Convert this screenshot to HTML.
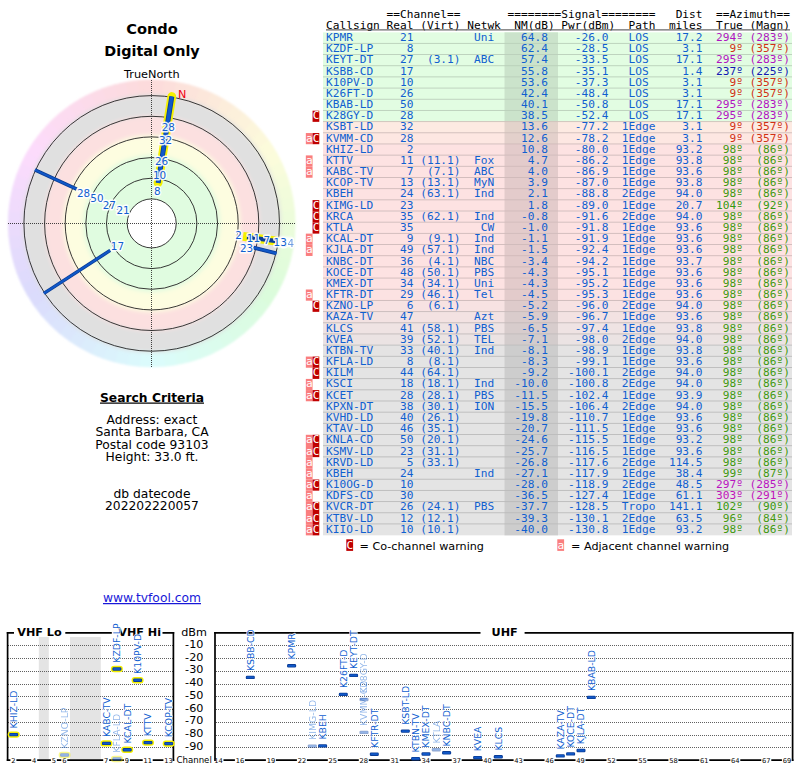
<!DOCTYPE html><html><head><meta charset="utf-8"><title>TV Fool Radar</title>
<style>html,body{margin:0;padding:0;background:#fff}svg{display:block}.m{font-family:"DejaVu Sans Mono","Liberation Mono",monospace;font-size:11.17px}.s{font-family:"DejaVu Sans","Liberation Sans",sans-serif}.b{font-family:"DejaVu Sans","Liberation Sans",sans-serif;font-weight:bold}</style></head><body>
<svg width="800" height="768" viewBox="0 0 800 768">
<defs><filter id="bl" x="-20%" y="-20%" width="140%" height="140%"><feGaussianBlur stdDeviation="0.8"/></filter><filter id="bl2" x="-20%" y="-20%" width="140%" height="140%"><feGaussianBlur stdDeviation="2"/></filter><filter id="bl3" x="-20%" y="-20%" width="140%" height="140%"><feGaussianBlur stdDeviation="1"/></filter></defs>
<rect width="800" height="768" fill="#fff"/>
<g filter="url(#bl)">
<path d="M150.9 79.6A143.8 143.8 0 0 1 165.0 80.2L162.8 103.9A120.0 120.0 0 0 0 151.1 103.4Z" fill="#fcdcdb"/>
<path d="M163.5 80.1A143.8 143.8 0 0 1 177.4 81.9L173.2 105.3A120.0 120.0 0 0 0 161.5 103.8Z" fill="#fcdfdb"/>
<path d="M175.9 81.7A143.8 143.8 0 0 1 189.6 84.7L183.4 107.7A120.0 120.0 0 0 0 171.9 105.1Z" fill="#fce2db"/>
<path d="M188.2 84.3A143.8 143.8 0 0 1 201.6 88.5L193.3 110.9A120.0 120.0 0 0 0 182.2 107.3Z" fill="#fce4db"/>
<path d="M200.2 88.0A143.8 143.8 0 0 1 213.2 93.4L203.0 114.9A120.0 120.0 0 0 0 192.2 110.4Z" fill="#fce7db"/>
<path d="M211.8 92.8A143.8 143.8 0 0 1 224.3 99.2L212.2 119.8A120.0 120.0 0 0 0 201.8 114.4Z" fill="#fceadb"/>
<path d="M222.9 98.5A143.8 143.8 0 0 1 234.8 106.0L221.0 125.5A120.0 120.0 0 0 0 211.2 119.2Z" fill="#fceddb"/>
<path d="M233.6 105.2A143.8 143.8 0 0 1 244.7 113.7L229.3 131.9A120.0 120.0 0 0 0 220.0 124.7Z" fill="#fcf0db"/>
<path d="M243.6 112.8A143.8 143.8 0 0 1 253.9 122.3L237.0 139.0A120.0 120.0 0 0 0 228.4 131.1Z" fill="#fcf2db"/>
<path d="M252.8 121.2A143.8 143.8 0 0 1 262.3 131.5L244.0 146.7A120.0 120.0 0 0 0 236.1 138.1Z" fill="#fcf5db"/>
<path d="M261.4 130.4A143.8 143.8 0 0 1 269.9 141.5L250.4 155.1A120.0 120.0 0 0 0 243.2 145.8Z" fill="#fcf8db"/>
<path d="M269.1 140.3A143.8 143.8 0 0 1 276.6 152.2L255.9 163.9A120.0 120.0 0 0 0 249.6 154.1Z" fill="#fcfbdb"/>
<path d="M275.9 150.8A143.8 143.8 0 0 1 282.3 163.3L260.7 173.3A120.0 120.0 0 0 0 255.3 162.9Z" fill="#fbfcdb"/>
<path d="M281.7 161.9A143.8 143.8 0 0 1 287.1 174.9L264.7 182.9A120.0 120.0 0 0 0 260.2 172.1Z" fill="#f8fcdb"/>
<path d="M286.6 173.5A143.8 143.8 0 0 1 290.8 186.9L267.8 192.9A120.0 120.0 0 0 0 264.2 181.8Z" fill="#f5fcdb"/>
<path d="M290.4 185.5A143.8 143.8 0 0 1 293.4 199.2L270.0 203.2A120.0 120.0 0 0 0 267.4 191.7Z" fill="#f2fcdb"/>
<path d="M293.2 197.7A143.8 143.8 0 0 1 295.0 211.6L271.3 213.6A120.0 120.0 0 0 0 269.8 201.9Z" fill="#f0fcdb"/>
<path d="M294.9 210.1A143.8 143.8 0 0 1 295.5 224.2L271.7 224.0A120.0 120.0 0 0 0 271.2 212.3Z" fill="#edfcdb"/>
<path d="M295.5 222.6A143.8 143.8 0 0 1 294.9 236.7L271.2 234.5A120.0 120.0 0 0 0 271.7 222.8Z" fill="#eafcdb"/>
<path d="M295.0 235.2A143.8 143.8 0 0 1 293.2 249.1L269.8 244.9A120.0 120.0 0 0 0 271.3 233.2Z" fill="#e7fcdb"/>
<path d="M293.4 247.6A143.8 143.8 0 0 1 290.4 261.3L267.4 255.1A120.0 120.0 0 0 0 270.0 243.6Z" fill="#e4fcdb"/>
<path d="M290.8 259.9A143.8 143.8 0 0 1 286.6 273.3L264.2 265.0A120.0 120.0 0 0 0 267.8 253.9Z" fill="#e2fcdb"/>
<path d="M287.1 271.9A143.8 143.8 0 0 1 281.7 284.9L260.2 274.7A120.0 120.0 0 0 0 264.7 263.9Z" fill="#dffcdb"/>
<path d="M282.3 283.5A143.8 143.8 0 0 1 275.9 296.0L255.3 283.9A120.0 120.0 0 0 0 260.7 273.5Z" fill="#dcfcdb"/>
<path d="M276.6 294.6A143.8 143.8 0 0 1 269.1 306.5L249.6 292.7A120.0 120.0 0 0 0 255.9 282.9Z" fill="#dbfcdc"/>
<path d="M269.9 305.3A143.8 143.8 0 0 1 261.4 316.4L243.2 301.0A120.0 120.0 0 0 0 250.4 291.7Z" fill="#dbfcdf"/>
<path d="M262.3 315.3A143.8 143.8 0 0 1 252.8 325.6L236.1 308.7A120.0 120.0 0 0 0 244.0 300.1Z" fill="#dbfce2"/>
<path d="M253.9 324.5A143.8 143.8 0 0 1 243.6 334.0L228.4 315.7A120.0 120.0 0 0 0 237.0 307.8Z" fill="#dbfce4"/>
<path d="M244.7 333.1A143.8 143.8 0 0 1 233.6 341.6L220.0 322.1A120.0 120.0 0 0 0 229.3 314.9Z" fill="#dbfce7"/>
<path d="M234.8 340.8A143.8 143.8 0 0 1 222.9 348.3L211.2 327.6A120.0 120.0 0 0 0 221.0 321.3Z" fill="#dbfcea"/>
<path d="M224.3 347.6A143.8 143.8 0 0 1 211.8 354.0L201.8 332.4A120.0 120.0 0 0 0 212.2 327.0Z" fill="#dbfced"/>
<path d="M213.2 353.4A143.8 143.8 0 0 1 200.2 358.8L192.2 336.4A120.0 120.0 0 0 0 203.0 331.9Z" fill="#dbfcf0"/>
<path d="M201.6 358.3A143.8 143.8 0 0 1 188.2 362.5L182.2 339.5A120.0 120.0 0 0 0 193.3 335.9Z" fill="#dbfcf2"/>
<path d="M189.6 362.1A143.8 143.8 0 0 1 175.9 365.1L171.9 341.7A120.0 120.0 0 0 0 183.4 339.1Z" fill="#dbfcf5"/>
<path d="M177.4 364.9A143.8 143.8 0 0 1 163.5 366.7L161.5 343.0A120.0 120.0 0 0 0 173.2 341.5Z" fill="#dbfcf8"/>
<path d="M165.0 366.6A143.8 143.8 0 0 1 150.9 367.2L151.1 343.4A120.0 120.0 0 0 0 162.8 342.9Z" fill="#dbfcfb"/>
<path d="M152.5 367.2A143.8 143.8 0 0 1 138.4 366.6L140.6 342.9A120.0 120.0 0 0 0 152.3 343.4Z" fill="#dbfbfc"/>
<path d="M139.9 366.7A143.8 143.8 0 0 1 126.0 364.9L130.2 341.5A120.0 120.0 0 0 0 141.9 343.0Z" fill="#dbf8fc"/>
<path d="M127.5 365.1A143.8 143.8 0 0 1 113.8 362.1L120.0 339.1A120.0 120.0 0 0 0 131.5 341.7Z" fill="#dbf5fc"/>
<path d="M115.2 362.5A143.8 143.8 0 0 1 101.8 358.3L110.1 335.9A120.0 120.0 0 0 0 121.2 339.5Z" fill="#dbf2fc"/>
<path d="M103.2 358.8A143.8 143.8 0 0 1 90.2 353.4L100.4 331.9A120.0 120.0 0 0 0 111.2 336.4Z" fill="#dbf0fc"/>
<path d="M91.6 354.0A143.8 143.8 0 0 1 79.1 347.6L91.2 327.0A120.0 120.0 0 0 0 101.6 332.4Z" fill="#dbedfc"/>
<path d="M80.5 348.3A143.8 143.8 0 0 1 68.6 340.8L82.4 321.3A120.0 120.0 0 0 0 92.2 327.6Z" fill="#dbeafc"/>
<path d="M69.8 341.6A143.8 143.8 0 0 1 58.7 333.1L74.1 314.9A120.0 120.0 0 0 0 83.4 322.1Z" fill="#dbe7fc"/>
<path d="M59.8 334.0A143.8 143.8 0 0 1 49.5 324.5L66.4 307.8A120.0 120.0 0 0 0 75.0 315.7Z" fill="#dbe4fc"/>
<path d="M50.6 325.6A143.8 143.8 0 0 1 41.1 315.3L59.4 300.1A120.0 120.0 0 0 0 67.3 308.7Z" fill="#dbe2fc"/>
<path d="M42.0 316.4A143.8 143.8 0 0 1 33.5 305.3L53.0 291.7A120.0 120.0 0 0 0 60.2 301.0Z" fill="#dbdffc"/>
<path d="M34.3 306.5A143.8 143.8 0 0 1 26.8 294.6L47.5 282.9A120.0 120.0 0 0 0 53.8 292.7Z" fill="#dbdcfc"/>
<path d="M27.5 296.0A143.8 143.8 0 0 1 21.1 283.5L42.7 273.5A120.0 120.0 0 0 0 48.1 283.9Z" fill="#dcdbfc"/>
<path d="M21.7 284.9A143.8 143.8 0 0 1 16.3 271.9L38.7 263.9A120.0 120.0 0 0 0 43.2 274.7Z" fill="#dfdbfc"/>
<path d="M16.8 273.3A143.8 143.8 0 0 1 12.6 259.9L35.6 253.9A120.0 120.0 0 0 0 39.2 265.0Z" fill="#e2dbfc"/>
<path d="M13.0 261.3A143.8 143.8 0 0 1 10.0 247.6L33.4 243.6A120.0 120.0 0 0 0 36.0 255.1Z" fill="#e4dbfc"/>
<path d="M10.2 249.1A143.8 143.8 0 0 1 8.4 235.2L32.1 233.2A120.0 120.0 0 0 0 33.6 244.9Z" fill="#e7dbfc"/>
<path d="M8.5 236.7A143.8 143.8 0 0 1 7.9 222.6L31.7 222.8A120.0 120.0 0 0 0 32.2 234.5Z" fill="#eadbfc"/>
<path d="M7.9 224.2A143.8 143.8 0 0 1 8.5 210.1L32.2 212.3A120.0 120.0 0 0 0 31.7 224.0Z" fill="#eddbfc"/>
<path d="M8.4 211.6A143.8 143.8 0 0 1 10.2 197.7L33.6 201.9A120.0 120.0 0 0 0 32.1 213.6Z" fill="#f0dbfc"/>
<path d="M10.0 199.2A143.8 143.8 0 0 1 13.0 185.5L36.0 191.7A120.0 120.0 0 0 0 33.4 203.2Z" fill="#f2dbfc"/>
<path d="M12.6 186.9A143.8 143.8 0 0 1 16.8 173.5L39.2 181.8A120.0 120.0 0 0 0 35.6 192.9Z" fill="#f5dbfc"/>
<path d="M16.3 174.9A143.8 143.8 0 0 1 21.7 161.9L43.2 172.1A120.0 120.0 0 0 0 38.7 182.9Z" fill="#f8dbfc"/>
<path d="M21.1 163.3A143.8 143.8 0 0 1 27.5 150.8L48.1 162.9A120.0 120.0 0 0 0 42.7 173.3Z" fill="#fbdbfc"/>
<path d="M26.8 152.2A143.8 143.8 0 0 1 34.3 140.3L53.8 154.1A120.0 120.0 0 0 0 47.5 163.9Z" fill="#fcdbfb"/>
<path d="M33.5 141.5A143.8 143.8 0 0 1 42.0 130.4L60.2 145.8A120.0 120.0 0 0 0 53.0 155.1Z" fill="#fcdbf8"/>
<path d="M41.1 131.5A143.8 143.8 0 0 1 50.6 121.2L67.3 138.1A120.0 120.0 0 0 0 59.4 146.7Z" fill="#fcdbf5"/>
<path d="M49.5 122.3A143.8 143.8 0 0 1 59.8 112.8L75.0 131.1A120.0 120.0 0 0 0 66.4 139.0Z" fill="#fcdbf2"/>
<path d="M58.7 113.7A143.8 143.8 0 0 1 69.8 105.2L83.4 124.7A120.0 120.0 0 0 0 74.1 131.9Z" fill="#fcdbf0"/>
<path d="M68.6 106.0A143.8 143.8 0 0 1 80.5 98.5L92.2 119.2A120.0 120.0 0 0 0 82.4 125.5Z" fill="#fcdbed"/>
<path d="M79.1 99.2A143.8 143.8 0 0 1 91.6 92.8L101.6 114.4A120.0 120.0 0 0 0 91.2 119.8Z" fill="#fcdbea"/>
<path d="M90.2 93.4A143.8 143.8 0 0 1 103.2 88.0L111.2 110.4A120.0 120.0 0 0 0 100.4 114.9Z" fill="#fcdbe7"/>
<path d="M101.8 88.5A143.8 143.8 0 0 1 115.2 84.3L121.2 107.3A120.0 120.0 0 0 0 110.1 110.9Z" fill="#fcdbe4"/>
<path d="M113.8 84.7A143.8 143.8 0 0 1 127.5 81.7L131.5 105.1A120.0 120.0 0 0 0 120.0 107.7Z" fill="#fcdbe2"/>
<path d="M126.0 81.9A143.8 143.8 0 0 1 139.9 80.1L141.9 103.8A120.0 120.0 0 0 0 130.2 105.3Z" fill="#fcdbdf"/>
<path d="M138.4 80.2A143.8 143.8 0 0 1 152.5 79.6L152.3 103.4A120.0 120.0 0 0 0 140.6 103.9Z" fill="#fcdbdc"/>
</g>
<g filter="url(#bl2)">
<circle cx="151.7" cy="223.4" r="129" fill="#e0e0e0"/>
<circle cx="151.7" cy="223.4" r="107.5" fill="#fce0e0"/>
<circle cx="151.7" cy="223.4" r="88.5" fill="#fdfde0"/>
<circle cx="151.7" cy="223.4" r="68.5" fill="#e0fce0"/>
</g>
<circle cx="151.7" cy="223.4" r="24.5" fill="#fff"/>
<path d="M8 223.5 H296 M151.5 80 V367" stroke="#222" stroke-opacity="0.85" stroke-width="1" stroke-dasharray="1 1" fill="none" shape-rendering="crispEdges"/>
<circle cx="151.7" cy="223.4" r="24.5" fill="none" stroke="#222" stroke-width="0.9"/>
<circle cx="151.7" cy="223.4" r="45.2" fill="none" stroke="#222" stroke-width="0.9"/>
<circle cx="151.7" cy="223.4" r="65.9" fill="none" stroke="#222" stroke-width="0.9"/>
<circle cx="151.7" cy="223.4" r="86.5" fill="none" stroke="#222" stroke-width="0.9"/>
<circle cx="151.7" cy="223.4" r="107.1" fill="none" stroke="#222" stroke-width="0.9"/>
<circle cx="151.7" cy="223.4" r="127.8" fill="none" stroke="#222" stroke-width="0.9"/>
<line x1="171.8" y1="96.5" x2="158.1" y2="182.9" stroke="#f4f000" stroke-width="8.8" stroke-linecap="round"/><line x1="171.8" y1="96.5" x2="158.1" y2="182.9" stroke="#0a3c96" stroke-width="5.0"/><line x1="171.8" y1="96.5" x2="158.1" y2="182.9" stroke="#1058c8" stroke-width="3.4"/>
<line x1="34.9" y1="169.9" x2="76.7" y2="189.1" stroke="#0a3c96" stroke-width="3.5"/><line x1="34.9" y1="169.9" x2="76.7" y2="189.1" stroke="#1058c8" stroke-width="1.9"/>
<line x1="43.9" y1="293.4" x2="110.2" y2="250.4" stroke="#0a3c96" stroke-width="3.5"/><line x1="43.9" y1="293.4" x2="110.2" y2="250.4" stroke="#1058c8" stroke-width="1.9"/>
<line x1="243" y1="236.4" x2="277.5" y2="241.3" stroke="#f4f000" stroke-width="9" stroke-linecap="butt"/>
<line x1="247" y1="237.0" x2="276.5" y2="241.15" stroke="#0a3c96" stroke-width="4.4"/>
<rect x="277" y="236.5" width="16" height="10.5" rx="3" fill="#fff" opacity="0.85" filter="url(#bl3)"/>
<line x1="253.5" y1="247.6" x2="276.5" y2="253.4" stroke="#0a3c96" stroke-width="3.8"/>
<line x1="253.5" y1="247.6" x2="276.5" y2="253.4" stroke="#1058c8" stroke-width="2.2"/>
<text class="s" x="168.3" y="130.5" font-size="10.4" text-anchor="middle" fill="none" stroke="#fff" stroke-width="3" stroke-linejoin="round" opacity="0.9">28</text>
<text class="s" x="168.3" y="130.5" font-size="10.4" text-anchor="middle" fill="#1060d0" opacity="1">28</text>
<text class="s" x="165.6" y="144.3" font-size="10.4" text-anchor="middle" fill="none" stroke="#fff" stroke-width="3" stroke-linejoin="round" opacity="0.9">32</text>
<text class="s" x="165.6" y="144.3" font-size="10.4" text-anchor="middle" fill="#1060d0" opacity="1">32</text>
<text class="s" x="161.6" y="165.2" font-size="10.4" text-anchor="middle" fill="none" stroke="#fff" stroke-width="3" stroke-linejoin="round" opacity="0.9">26</text>
<text class="s" x="161.6" y="165.2" font-size="10.4" text-anchor="middle" fill="#1060d0" opacity="1">26</text>
<text class="s" x="159.6" y="179.3" font-size="10.4" text-anchor="middle" fill="none" stroke="#fff" stroke-width="3" stroke-linejoin="round" opacity="0.9">10</text>
<text class="s" x="159.6" y="179.3" font-size="10.4" text-anchor="middle" fill="#1060d0" opacity="1">10</text>
<text class="s" x="157.2" y="194.5" font-size="10.4" text-anchor="middle" fill="none" stroke="#fff" stroke-width="3" stroke-linejoin="round" opacity="0.9">8</text>
<text class="s" x="157.2" y="194.5" font-size="10.4" text-anchor="middle" fill="#1060d0" opacity="1">8</text>
<text class="s" x="83.6" y="196.8" font-size="10.4" text-anchor="middle" fill="none" stroke="#fff" stroke-width="3" stroke-linejoin="round" opacity="0.9">28</text>
<text class="s" x="83.6" y="196.8" font-size="10.4" text-anchor="middle" fill="#1060d0" opacity="1">28</text>
<text class="s" x="96.9" y="202.3" font-size="10.4" text-anchor="middle" fill="none" stroke="#fff" stroke-width="3" stroke-linejoin="round" opacity="0.9">50</text>
<text class="s" x="96.9" y="202.3" font-size="10.4" text-anchor="middle" fill="#1060d0" opacity="1">50</text>
<text class="s" x="111.0" y="208.6" font-size="10.4" text-anchor="middle" fill="none" stroke="#fff" stroke-width="3" stroke-linejoin="round" opacity="0.9">27,</text>
<text class="s" x="111.0" y="208.6" font-size="10.4" text-anchor="middle" fill="#1060d0" opacity="1">27,</text>
<text class="s" x="123.0" y="214.4" font-size="10.4" text-anchor="middle" fill="none" stroke="#fff" stroke-width="3" stroke-linejoin="round" opacity="0.9">21</text>
<text class="s" x="123.0" y="214.4" font-size="10.4" text-anchor="middle" fill="#1060d0" opacity="1">21</text>
<text class="s" x="117.4" y="250.3" font-size="10.4" text-anchor="middle" fill="none" stroke="#fff" stroke-width="3" stroke-linejoin="round" opacity="0.9">17</text>
<text class="s" x="117.4" y="250.3" font-size="10.4" text-anchor="middle" fill="#1060d0" opacity="1">17</text>
<text class="s" x="287.6" y="247.4" font-size="10.4" text-anchor="middle" fill="none" stroke="#fff" stroke-width="3" stroke-linejoin="round" opacity="0.9">34</text>
<text class="s" x="287.6" y="247.4" font-size="10.4" text-anchor="middle" fill="#1060d0" opacity="0.6">34</text>
<text class="s" x="280.2" y="245.8" font-size="10.4" text-anchor="middle" fill="none" stroke="#fff" stroke-width="3" stroke-linejoin="round" opacity="0.9">13</text>
<text class="s" x="280.2" y="245.8" font-size="10.4" text-anchor="middle" fill="#1060d0" opacity="1">13</text>
<text class="s" x="266.8" y="243.6" font-size="10.4" text-anchor="middle" fill="none" stroke="#fff" stroke-width="3" stroke-linejoin="round" opacity="0.9">7</text>
<text class="s" x="266.8" y="243.6" font-size="10.4" text-anchor="middle" fill="#1060d0" opacity="1">7</text>
<text class="s" x="253.4" y="241.6" font-size="10.4" text-anchor="middle" fill="none" stroke="#fff" stroke-width="3" stroke-linejoin="round" opacity="0.9">11</text>
<text class="s" x="253.4" y="241.6" font-size="10.4" text-anchor="middle" fill="#1060d0" opacity="1">11</text>
<text class="s" x="238.5" y="239.4" font-size="10.4" text-anchor="middle" fill="none" stroke="#fff" stroke-width="3" stroke-linejoin="round" opacity="0.9">2</text>
<text class="s" x="238.5" y="239.4" font-size="10.4" text-anchor="middle" fill="#1060d0" opacity="1">2</text>
<text class="s" x="246.6" y="251.6" font-size="10.4" text-anchor="middle" fill="none" stroke="#fff" stroke-width="3" stroke-linejoin="round" opacity="0.9">23</text>
<text class="s" x="246.6" y="251.6" font-size="10.4" text-anchor="middle" fill="#1060d0" opacity="1">23</text>
<text class="s" x="182.3" y="97.6" font-size="11.2" text-anchor="middle" fill="#f00010" opacity="1">N</text>
<text class="b" x="152" y="33.6" font-size="14.6" text-anchor="middle" fill="#000">Condo</text>
<text class="b" x="152" y="55.5" font-size="14.4" text-anchor="middle" fill="#000">Digital Only</text>
<text class="s" x="151.8" y="78.2" font-size="11.3" text-anchor="middle" fill="#000">TrueNorth</text>
<text class="b" x="152" y="401.5" font-size="12.3" text-anchor="middle" fill="#000" text-decoration="underline">Search Criteria</text>
<text class="s" x="152" y="423.6" font-size="12.3" text-anchor="middle" fill="#000">Address: exact</text>
<text class="s" x="152" y="436.1" font-size="12.3" text-anchor="middle" fill="#000">Santa Barbara, CA</text>
<text class="s" x="152" y="448.6" font-size="12.3" text-anchor="middle" fill="#000">Postal code 93103</text>
<text class="s" x="152" y="461.1" font-size="12.3" text-anchor="middle" fill="#000">Height: 33.0 ft.</text>
<text class="s" x="152" y="497.6" font-size="12.3" text-anchor="middle" fill="#000">db datecode</text>
<text class="s" x="152" y="510" font-size="12.3" text-anchor="middle" fill="#000">202202220057</text>
<text class="s" x="152" y="602" font-size="12.3" text-anchor="middle" fill="#1818d8" text-decoration="underline">www.tvfool.com</text>
<text class="m" x="386.60" y="18.20" fill="#000" text-anchor="start" xml:space="preserve">==Channel==</text>
<text class="m" x="507.59" y="18.20" fill="#000" text-anchor="start" xml:space="preserve">========Signal========</text>
<text class="m" x="675.64" y="18.20" fill="#000" text-anchor="start" xml:space="preserve">Dist</text>
<text class="m" x="715.98" y="18.20" fill="#000" text-anchor="start" xml:space="preserve">==Azimuth==</text>
<text class="m" x="326.10" y="28.50" fill="#000" text-anchor="start" xml:space="preserve">Callsign</text>
<text class="m" x="386.60" y="28.50" fill="#000" text-anchor="start" xml:space="preserve">Real</text>
<text class="m" x="420.21" y="28.50" fill="#000" text-anchor="start" xml:space="preserve">(Virt)</text>
<text class="m" x="467.26" y="28.50" fill="#000" text-anchor="start" xml:space="preserve">Netwk</text>
<text class="m" x="514.32" y="28.50" fill="#000" text-anchor="start" xml:space="preserve">NM(dB)</text>
<text class="m" x="561.37" y="28.50" fill="#000" text-anchor="start" xml:space="preserve">Pwr(dBm)</text>
<text class="m" x="628.59" y="28.50" fill="#000" text-anchor="start" xml:space="preserve">Path</text>
<text class="m" x="668.92" y="28.50" fill="#000" text-anchor="start" xml:space="preserve">miles</text>
<text class="m" x="715.98" y="28.50" fill="#000" text-anchor="start" xml:space="preserve">True</text>
<text class="m" x="749.59" y="28.50" fill="#000" text-anchor="start" xml:space="preserve">(Magn)</text>
<rect x="326" y="29.4" width="464" height="1" fill="#444"/>
<rect x="323" y="32.35" width="469" height="11.23" fill="#e2fde2"/>
<rect x="504.5" y="32.35" width="53.5" height="11.23" fill="#cbe3cb"/>
<rect x="323" y="43.53" width="469" height="11.23" fill="#e2fde2"/>
<rect x="504.5" y="43.53" width="53.5" height="11.23" fill="#cbe3cb"/>
<rect x="323" y="42.93" width="469" height="0.9" fill="#b9cfb9"/>
<rect x="323" y="54.70" width="469" height="11.23" fill="#e2fde2"/>
<rect x="504.5" y="54.70" width="53.5" height="11.23" fill="#cbe3cb"/>
<rect x="323" y="54.10" width="469" height="0.9" fill="#b9cfb9"/>
<rect x="323" y="65.88" width="469" height="11.23" fill="#e2fde2"/>
<rect x="504.5" y="65.88" width="53.5" height="11.23" fill="#cbe3cb"/>
<rect x="323" y="65.28" width="469" height="0.9" fill="#b9cfb9"/>
<rect x="323" y="77.05" width="469" height="11.23" fill="#e2fde2"/>
<rect x="504.5" y="77.05" width="53.5" height="11.23" fill="#cbe3cb"/>
<rect x="323" y="76.45" width="469" height="0.9" fill="#b9cfb9"/>
<rect x="323" y="88.23" width="469" height="11.23" fill="#e2fde2"/>
<rect x="504.5" y="88.23" width="53.5" height="11.23" fill="#cbe3cb"/>
<rect x="323" y="87.63" width="469" height="0.9" fill="#b9cfb9"/>
<rect x="323" y="99.41" width="469" height="11.23" fill="#e2fde2"/>
<rect x="504.5" y="99.41" width="53.5" height="11.23" fill="#cbe3cb"/>
<rect x="323" y="98.81" width="469" height="0.9" fill="#b9cfb9"/>
<rect x="323" y="110.58" width="469" height="11.23" fill="#e2fde2"/>
<rect x="504.5" y="110.58" width="53.5" height="11.23" fill="#cbe3cb"/>
<rect x="323" y="109.98" width="469" height="0.9" fill="#b9cfb9"/>
<rect x="323" y="121.76" width="469" height="11.23" fill="#fdeae2"/>
<rect x="504.5" y="121.76" width="53.5" height="11.23" fill="#e3d3cb"/>
<rect x="323" y="121.16" width="469" height="0.9" fill="#cfc0b9"/>
<rect x="323" y="132.93" width="469" height="11.23" fill="#fde7e2"/>
<rect x="504.5" y="132.93" width="53.5" height="11.23" fill="#e3d0cb"/>
<rect x="323" y="132.33" width="469" height="0.9" fill="#cfbdb9"/>
<rect x="323" y="144.11" width="469" height="11.23" fill="#fde2e2"/>
<rect x="504.5" y="144.11" width="53.5" height="11.23" fill="#e3cbcb"/>
<rect x="323" y="143.51" width="469" height="0.9" fill="#cfb9b9"/>
<rect x="323" y="155.29" width="469" height="11.23" fill="#fde2e2"/>
<rect x="504.5" y="155.29" width="53.5" height="11.23" fill="#e3cbcb"/>
<rect x="323" y="154.69" width="469" height="0.9" fill="#cfb9b9"/>
<rect x="323" y="166.46" width="469" height="11.23" fill="#fde2e2"/>
<rect x="504.5" y="166.46" width="53.5" height="11.23" fill="#e3cbcb"/>
<rect x="323" y="165.86" width="469" height="0.9" fill="#cfb9b9"/>
<rect x="323" y="177.64" width="469" height="11.23" fill="#fde2e2"/>
<rect x="504.5" y="177.64" width="53.5" height="11.23" fill="#e3cbcb"/>
<rect x="323" y="177.04" width="469" height="0.9" fill="#cfb9b9"/>
<rect x="323" y="188.81" width="469" height="11.23" fill="#fde2e2"/>
<rect x="504.5" y="188.81" width="53.5" height="11.23" fill="#e3cbcb"/>
<rect x="323" y="188.21" width="469" height="0.9" fill="#cfb9b9"/>
<rect x="323" y="199.99" width="469" height="11.23" fill="#fde2e2"/>
<rect x="504.5" y="199.99" width="53.5" height="11.23" fill="#e3cbcb"/>
<rect x="323" y="199.39" width="469" height="0.9" fill="#cfb9b9"/>
<rect x="323" y="211.17" width="469" height="11.23" fill="#fde2e2"/>
<rect x="504.5" y="211.17" width="53.5" height="11.23" fill="#e3cbcb"/>
<rect x="323" y="210.57" width="469" height="0.9" fill="#cfb9b9"/>
<rect x="323" y="222.34" width="469" height="11.23" fill="#fde2e2"/>
<rect x="504.5" y="222.34" width="53.5" height="11.23" fill="#e3cbcb"/>
<rect x="323" y="221.74" width="469" height="0.9" fill="#cfb9b9"/>
<rect x="323" y="233.52" width="469" height="11.23" fill="#fde2e2"/>
<rect x="504.5" y="233.52" width="53.5" height="11.23" fill="#e3cbcb"/>
<rect x="323" y="232.92" width="469" height="0.9" fill="#cfb9b9"/>
<rect x="323" y="244.69" width="469" height="11.23" fill="#fde2e2"/>
<rect x="504.5" y="244.69" width="53.5" height="11.23" fill="#e3cbcb"/>
<rect x="323" y="244.09" width="469" height="0.9" fill="#cfb9b9"/>
<rect x="323" y="255.87" width="469" height="11.23" fill="#fde2e2"/>
<rect x="504.5" y="255.87" width="53.5" height="11.23" fill="#e3cbcb"/>
<rect x="323" y="255.27" width="469" height="0.9" fill="#cfb9b9"/>
<rect x="323" y="267.05" width="469" height="11.23" fill="#fde2e2"/>
<rect x="504.5" y="267.05" width="53.5" height="11.23" fill="#e3cbcb"/>
<rect x="323" y="266.45" width="469" height="0.9" fill="#cfb9b9"/>
<rect x="323" y="278.22" width="469" height="11.23" fill="#fde2e2"/>
<rect x="504.5" y="278.22" width="53.5" height="11.23" fill="#e3cbcb"/>
<rect x="323" y="277.62" width="469" height="0.9" fill="#cfb9b9"/>
<rect x="323" y="289.40" width="469" height="11.23" fill="#fce2e2"/>
<rect x="504.5" y="289.40" width="53.5" height="11.23" fill="#e3cbcb"/>
<rect x="323" y="288.80" width="469" height="0.9" fill="#ceb9b9"/>
<rect x="323" y="300.57" width="469" height="11.23" fill="#f7e2e2"/>
<rect x="504.5" y="300.57" width="53.5" height="11.23" fill="#decbcb"/>
<rect x="323" y="299.97" width="469" height="0.9" fill="#cbb9b9"/>
<rect x="323" y="311.75" width="469" height="11.23" fill="#f3e2e2"/>
<rect x="504.5" y="311.75" width="53.5" height="11.23" fill="#dacccc"/>
<rect x="323" y="311.15" width="469" height="0.9" fill="#c7b9b9"/>
<rect x="323" y="322.93" width="469" height="11.23" fill="#efe3e3"/>
<rect x="504.5" y="322.93" width="53.5" height="11.23" fill="#d7cccc"/>
<rect x="323" y="322.33" width="469" height="0.9" fill="#c4baba"/>
<rect x="323" y="334.10" width="469" height="11.23" fill="#ebe3e3"/>
<rect x="504.5" y="334.10" width="53.5" height="11.23" fill="#d3cccc"/>
<rect x="323" y="333.50" width="469" height="0.9" fill="#c0baba"/>
<rect x="323" y="345.28" width="469" height="11.23" fill="#e4e3e3"/>
<rect x="504.5" y="345.28" width="53.5" height="11.23" fill="#cdcdcd"/>
<rect x="323" y="344.68" width="469" height="0.9" fill="#bbbaba"/>
<rect x="323" y="356.45" width="469" height="11.23" fill="#e4e4e4"/>
<rect x="504.5" y="356.45" width="53.5" height="11.23" fill="#cdcdcd"/>
<rect x="323" y="355.85" width="469" height="0.9" fill="#bababa"/>
<rect x="323" y="367.63" width="469" height="11.23" fill="#e4e4e4"/>
<rect x="504.5" y="367.63" width="53.5" height="11.23" fill="#cdcdcd"/>
<rect x="323" y="367.03" width="469" height="0.9" fill="#bababa"/>
<rect x="323" y="378.81" width="469" height="11.23" fill="#e4e4e4"/>
<rect x="504.5" y="378.81" width="53.5" height="11.23" fill="#cdcdcd"/>
<rect x="323" y="378.21" width="469" height="0.9" fill="#bababa"/>
<rect x="323" y="389.98" width="469" height="11.23" fill="#e4e4e4"/>
<rect x="504.5" y="389.98" width="53.5" height="11.23" fill="#cdcdcd"/>
<rect x="323" y="389.38" width="469" height="0.9" fill="#bababa"/>
<rect x="323" y="401.16" width="469" height="11.23" fill="#e4e4e4"/>
<rect x="504.5" y="401.16" width="53.5" height="11.23" fill="#cdcdcd"/>
<rect x="323" y="400.56" width="469" height="0.9" fill="#bababa"/>
<rect x="323" y="412.33" width="469" height="11.23" fill="#e4e4e4"/>
<rect x="504.5" y="412.33" width="53.5" height="11.23" fill="#cdcdcd"/>
<rect x="323" y="411.73" width="469" height="0.9" fill="#bababa"/>
<rect x="323" y="423.51" width="469" height="11.23" fill="#e4e4e4"/>
<rect x="504.5" y="423.51" width="53.5" height="11.23" fill="#cdcdcd"/>
<rect x="323" y="422.91" width="469" height="0.9" fill="#bababa"/>
<rect x="323" y="434.69" width="469" height="11.23" fill="#e4e4e4"/>
<rect x="504.5" y="434.69" width="53.5" height="11.23" fill="#cdcdcd"/>
<rect x="323" y="434.09" width="469" height="0.9" fill="#bababa"/>
<rect x="323" y="445.86" width="469" height="11.23" fill="#e4e4e4"/>
<rect x="504.5" y="445.86" width="53.5" height="11.23" fill="#cdcdcd"/>
<rect x="323" y="445.26" width="469" height="0.9" fill="#bababa"/>
<rect x="323" y="457.04" width="469" height="11.23" fill="#e4e4e4"/>
<rect x="504.5" y="457.04" width="53.5" height="11.23" fill="#cdcdcd"/>
<rect x="323" y="456.44" width="469" height="0.9" fill="#bababa"/>
<rect x="323" y="468.21" width="469" height="11.23" fill="#e4e4e4"/>
<rect x="504.5" y="468.21" width="53.5" height="11.23" fill="#cdcdcd"/>
<rect x="323" y="467.61" width="469" height="0.9" fill="#bababa"/>
<rect x="323" y="479.39" width="469" height="11.23" fill="#e4e4e4"/>
<rect x="504.5" y="479.39" width="53.5" height="11.23" fill="#cdcdcd"/>
<rect x="323" y="478.79" width="469" height="0.9" fill="#bababa"/>
<rect x="323" y="490.57" width="469" height="11.23" fill="#e4e4e4"/>
<rect x="504.5" y="490.57" width="53.5" height="11.23" fill="#cdcdcd"/>
<rect x="323" y="489.97" width="469" height="0.9" fill="#bababa"/>
<rect x="323" y="501.74" width="469" height="11.23" fill="#e4e4e4"/>
<rect x="504.5" y="501.74" width="53.5" height="11.23" fill="#cdcdcd"/>
<rect x="323" y="501.14" width="469" height="0.9" fill="#bababa"/>
<rect x="323" y="512.92" width="469" height="11.23" fill="#e4e4e4"/>
<rect x="504.5" y="512.92" width="53.5" height="11.23" fill="#cdcdcd"/>
<rect x="323" y="512.32" width="469" height="0.9" fill="#bababa"/>
<rect x="323" y="524.09" width="469" height="11.23" fill="#e4e4e4"/>
<rect x="504.5" y="524.09" width="53.5" height="11.23" fill="#cdcdcd"/>
<rect x="323" y="523.49" width="469" height="0.9" fill="#bababa"/>
<text class="m" x="326.10" y="41.00" fill="#1060d0" text-anchor="start" xml:space="preserve">KPMR</text>
<text class="m" x="413.49" y="41.00" fill="#1060d0" text-anchor="end" xml:space="preserve">21</text>
<text class="m" x="494.15" y="41.00" fill="#1060d0" text-anchor="end" xml:space="preserve">Uni</text>
<text class="m" x="547.93" y="41.00" fill="#1060d0" text-anchor="end" xml:space="preserve">64.8</text>
<text class="m" x="608.42" y="41.00" fill="#1060d0" text-anchor="end" xml:space="preserve">-26.0</text>
<text class="m" x="628.59" y="41.00" fill="#1060d0" text-anchor="start" xml:space="preserve">LOS</text>
<text class="m" x="702.53" y="41.00" fill="#1060d0" text-anchor="end" xml:space="preserve">17.2</text>
<text class="m" x="742.86" y="41.00" fill="#b013c1" text-anchor="end" xml:space="preserve">294º</text>
<text class="m" x="789.92" y="41.00" fill="#b013c1" text-anchor="end" xml:space="preserve">(283º)</text>
<text class="m" x="326.10" y="52.18" fill="#1060d0" text-anchor="start" xml:space="preserve">KZDF-LP</text>
<text class="m" x="413.49" y="52.18" fill="#1060d0" text-anchor="end" xml:space="preserve">8</text>
<text class="m" x="547.93" y="52.18" fill="#1060d0" text-anchor="end" xml:space="preserve">62.4</text>
<text class="m" x="608.42" y="52.18" fill="#1060d0" text-anchor="end" xml:space="preserve">-28.5</text>
<text class="m" x="628.59" y="52.18" fill="#1060d0" text-anchor="start" xml:space="preserve">LOS</text>
<text class="m" x="702.53" y="52.18" fill="#1060d0" text-anchor="end" xml:space="preserve">3.1</text>
<text class="m" x="742.86" y="52.18" fill="#d13114" text-anchor="end" xml:space="preserve">9º</text>
<text class="m" x="789.92" y="52.18" fill="#d13114" text-anchor="end" xml:space="preserve">(357º)</text>
<text class="m" x="326.10" y="63.35" fill="#1060d0" text-anchor="start" xml:space="preserve">KEYT-DT</text>
<text class="m" x="413.49" y="63.35" fill="#1060d0" text-anchor="end" xml:space="preserve">27</text>
<text class="m" x="460.54" y="63.35" fill="#1060d0" text-anchor="end" xml:space="preserve">(3.1)</text>
<text class="m" x="494.15" y="63.35" fill="#1060d0" text-anchor="end" xml:space="preserve">ABC</text>
<text class="m" x="547.93" y="63.35" fill="#1060d0" text-anchor="end" xml:space="preserve">57.4</text>
<text class="m" x="608.42" y="63.35" fill="#1060d0" text-anchor="end" xml:space="preserve">-33.5</text>
<text class="m" x="628.59" y="63.35" fill="#1060d0" text-anchor="start" xml:space="preserve">LOS</text>
<text class="m" x="702.53" y="63.35" fill="#1060d0" text-anchor="end" xml:space="preserve">17.1</text>
<text class="m" x="742.86" y="63.35" fill="#b313c1" text-anchor="end" xml:space="preserve">295º</text>
<text class="m" x="789.92" y="63.35" fill="#b313c1" text-anchor="end" xml:space="preserve">(283º)</text>
<text class="m" x="326.10" y="74.53" fill="#1060d0" text-anchor="start" xml:space="preserve">KSBB-CD</text>
<text class="m" x="413.49" y="74.53" fill="#1060d0" text-anchor="end" xml:space="preserve">17</text>
<text class="m" x="547.93" y="74.53" fill="#1060d0" text-anchor="end" xml:space="preserve">55.8</text>
<text class="m" x="608.42" y="74.53" fill="#1060d0" text-anchor="end" xml:space="preserve">-35.1</text>
<text class="m" x="628.59" y="74.53" fill="#1060d0" text-anchor="start" xml:space="preserve">LOS</text>
<text class="m" x="702.53" y="74.53" fill="#1060d0" text-anchor="end" xml:space="preserve">1.4</text>
<text class="m" x="742.86" y="74.53" fill="#1119b2" text-anchor="end" xml:space="preserve">237º</text>
<text class="m" x="789.92" y="74.53" fill="#1119b2" text-anchor="end" xml:space="preserve">(225º)</text>
<text class="m" x="326.10" y="85.70" fill="#1060d0" text-anchor="start" xml:space="preserve">K10PV-D</text>
<text class="m" x="413.49" y="85.70" fill="#1060d0" text-anchor="end" xml:space="preserve">10</text>
<text class="m" x="547.93" y="85.70" fill="#1060d0" text-anchor="end" xml:space="preserve">53.6</text>
<text class="m" x="608.42" y="85.70" fill="#1060d0" text-anchor="end" xml:space="preserve">-37.3</text>
<text class="m" x="628.59" y="85.70" fill="#1060d0" text-anchor="start" xml:space="preserve">LOS</text>
<text class="m" x="702.53" y="85.70" fill="#1060d0" text-anchor="end" xml:space="preserve">3.1</text>
<text class="m" x="742.86" y="85.70" fill="#d13114" text-anchor="end" xml:space="preserve">9º</text>
<text class="m" x="789.92" y="85.70" fill="#d13114" text-anchor="end" xml:space="preserve">(357º)</text>
<text class="m" x="326.10" y="96.88" fill="#1060d0" text-anchor="start" xml:space="preserve">K26FT-D</text>
<text class="m" x="413.49" y="96.88" fill="#1060d0" text-anchor="end" xml:space="preserve">26</text>
<text class="m" x="547.93" y="96.88" fill="#1060d0" text-anchor="end" xml:space="preserve">42.4</text>
<text class="m" x="608.42" y="96.88" fill="#1060d0" text-anchor="end" xml:space="preserve">-48.4</text>
<text class="m" x="628.59" y="96.88" fill="#1060d0" text-anchor="start" xml:space="preserve">LOS</text>
<text class="m" x="702.53" y="96.88" fill="#1060d0" text-anchor="end" xml:space="preserve">3.1</text>
<text class="m" x="742.86" y="96.88" fill="#d13114" text-anchor="end" xml:space="preserve">9º</text>
<text class="m" x="789.92" y="96.88" fill="#d13114" text-anchor="end" xml:space="preserve">(357º)</text>
<text class="m" x="326.10" y="108.06" fill="#1060d0" text-anchor="start" xml:space="preserve">KBAB-LD</text>
<text class="m" x="413.49" y="108.06" fill="#1060d0" text-anchor="end" xml:space="preserve">50</text>
<text class="m" x="547.93" y="108.06" fill="#1060d0" text-anchor="end" xml:space="preserve">40.1</text>
<text class="m" x="608.42" y="108.06" fill="#1060d0" text-anchor="end" xml:space="preserve">-50.8</text>
<text class="m" x="628.59" y="108.06" fill="#1060d0" text-anchor="start" xml:space="preserve">LOS</text>
<text class="m" x="702.53" y="108.06" fill="#1060d0" text-anchor="end" xml:space="preserve">17.1</text>
<text class="m" x="742.86" y="108.06" fill="#b313c1" text-anchor="end" xml:space="preserve">295º</text>
<text class="m" x="789.92" y="108.06" fill="#b313c1" text-anchor="end" xml:space="preserve">(283º)</text>
<rect x="312.56" y="110.68" width="6.72" height="11.18" fill="#c00000"/>
<text class="m" x="312.66" y="119.23" fill="#fff" text-anchor="start" xml:space="preserve">C</text>
<text class="m" x="326.10" y="119.23" fill="#1060d0" text-anchor="start" xml:space="preserve">K28GY-D</text>
<text class="m" x="413.49" y="119.23" fill="#1060d0" text-anchor="end" xml:space="preserve">28</text>
<text class="m" x="547.93" y="119.23" fill="#1060d0" text-anchor="end" xml:space="preserve">38.5</text>
<text class="m" x="608.42" y="119.23" fill="#1060d0" text-anchor="end" xml:space="preserve">-52.4</text>
<text class="m" x="628.59" y="119.23" fill="#1060d0" text-anchor="start" xml:space="preserve">LOS</text>
<text class="m" x="702.53" y="119.23" fill="#1060d0" text-anchor="end" xml:space="preserve">17.1</text>
<text class="m" x="742.86" y="119.23" fill="#b313c1" text-anchor="end" xml:space="preserve">295º</text>
<text class="m" x="789.92" y="119.23" fill="#b313c1" text-anchor="end" xml:space="preserve">(283º)</text>
<text class="m" x="326.10" y="130.41" fill="#1060d0" text-anchor="start" xml:space="preserve">KSBT-LD</text>
<text class="m" x="413.49" y="130.41" fill="#1060d0" text-anchor="end" xml:space="preserve">32</text>
<text class="m" x="547.93" y="130.41" fill="#1060d0" text-anchor="end" xml:space="preserve">13.6</text>
<text class="m" x="608.42" y="130.41" fill="#1060d0" text-anchor="end" xml:space="preserve">-77.2</text>
<text class="m" x="621.87" y="130.41" fill="#1060d0" text-anchor="start" xml:space="preserve">1Edge</text>
<text class="m" x="702.53" y="130.41" fill="#1060d0" text-anchor="end" xml:space="preserve">3.1</text>
<text class="m" x="742.86" y="130.41" fill="#d13114" text-anchor="end" xml:space="preserve">9º</text>
<text class="m" x="789.92" y="130.41" fill="#d13114" text-anchor="end" xml:space="preserve">(357º)</text>
<rect x="305.83" y="133.03" width="6.72" height="11.18" fill="#fa7e7e"/>
<text class="m" x="305.93" y="141.58" fill="#fff" text-anchor="start" xml:space="preserve">a</text>
<rect x="312.56" y="133.03" width="6.72" height="11.18" fill="#c00000"/>
<text class="m" x="312.66" y="141.58" fill="#fff" text-anchor="start" xml:space="preserve">C</text>
<text class="m" x="326.10" y="141.58" fill="#1060d0" text-anchor="start" xml:space="preserve">KVMM-CD</text>
<text class="m" x="413.49" y="141.58" fill="#1060d0" text-anchor="end" xml:space="preserve">28</text>
<text class="m" x="547.93" y="141.58" fill="#1060d0" text-anchor="end" xml:space="preserve">12.6</text>
<text class="m" x="608.42" y="141.58" fill="#1060d0" text-anchor="end" xml:space="preserve">-78.2</text>
<text class="m" x="621.87" y="141.58" fill="#1060d0" text-anchor="start" xml:space="preserve">1Edge</text>
<text class="m" x="702.53" y="141.58" fill="#1060d0" text-anchor="end" xml:space="preserve">3.1</text>
<text class="m" x="742.86" y="141.58" fill="#d13114" text-anchor="end" xml:space="preserve">9º</text>
<text class="m" x="789.92" y="141.58" fill="#d13114" text-anchor="end" xml:space="preserve">(357º)</text>
<text class="m" x="326.10" y="152.76" fill="#1060d0" text-anchor="start" xml:space="preserve">KHIZ-LD</text>
<text class="m" x="413.49" y="152.76" fill="#1060d0" text-anchor="end" xml:space="preserve">2</text>
<text class="m" x="547.93" y="152.76" fill="#1060d0" text-anchor="end" xml:space="preserve">10.8</text>
<text class="m" x="608.42" y="152.76" fill="#1060d0" text-anchor="end" xml:space="preserve">-80.0</text>
<text class="m" x="621.87" y="152.76" fill="#1060d0" text-anchor="start" xml:space="preserve">1Edge</text>
<text class="m" x="702.53" y="152.76" fill="#1060d0" text-anchor="end" xml:space="preserve">93.2</text>
<text class="m" x="742.86" y="152.76" fill="#41990f" text-anchor="end" xml:space="preserve">98º</text>
<text class="m" x="789.92" y="152.76" fill="#41990f" text-anchor="end" xml:space="preserve">(86º)</text>
<rect x="305.83" y="155.39" width="6.72" height="11.18" fill="#fa7e7e"/>
<text class="m" x="305.93" y="163.94" fill="#fff" text-anchor="start" xml:space="preserve">a</text>
<text class="m" x="326.10" y="163.94" fill="#1060d0" text-anchor="start" xml:space="preserve">KTTV</text>
<text class="m" x="413.49" y="163.94" fill="#1060d0" text-anchor="end" xml:space="preserve">11</text>
<text class="m" x="460.54" y="163.94" fill="#1060d0" text-anchor="end" xml:space="preserve">(11.1)</text>
<text class="m" x="494.15" y="163.94" fill="#1060d0" text-anchor="end" xml:space="preserve">Fox</text>
<text class="m" x="547.93" y="163.94" fill="#1060d0" text-anchor="end" xml:space="preserve">4.7</text>
<text class="m" x="608.42" y="163.94" fill="#1060d0" text-anchor="end" xml:space="preserve">-86.2</text>
<text class="m" x="621.87" y="163.94" fill="#1060d0" text-anchor="start" xml:space="preserve">1Edge</text>
<text class="m" x="702.53" y="163.94" fill="#1060d0" text-anchor="end" xml:space="preserve">93.8</text>
<text class="m" x="742.86" y="163.94" fill="#41990f" text-anchor="end" xml:space="preserve">98º</text>
<text class="m" x="789.92" y="163.94" fill="#41990f" text-anchor="end" xml:space="preserve">(86º)</text>
<rect x="305.83" y="166.56" width="6.72" height="11.18" fill="#fa7e7e"/>
<text class="m" x="305.93" y="175.11" fill="#fff" text-anchor="start" xml:space="preserve">a</text>
<text class="m" x="326.10" y="175.11" fill="#1060d0" text-anchor="start" xml:space="preserve">KABC-TV</text>
<text class="m" x="413.49" y="175.11" fill="#1060d0" text-anchor="end" xml:space="preserve">7</text>
<text class="m" x="460.54" y="175.11" fill="#1060d0" text-anchor="end" xml:space="preserve">(7.1)</text>
<text class="m" x="494.15" y="175.11" fill="#1060d0" text-anchor="end" xml:space="preserve">ABC</text>
<text class="m" x="547.93" y="175.11" fill="#1060d0" text-anchor="end" xml:space="preserve">4.0</text>
<text class="m" x="608.42" y="175.11" fill="#1060d0" text-anchor="end" xml:space="preserve">-86.9</text>
<text class="m" x="621.87" y="175.11" fill="#1060d0" text-anchor="start" xml:space="preserve">1Edge</text>
<text class="m" x="702.53" y="175.11" fill="#1060d0" text-anchor="end" xml:space="preserve">93.6</text>
<text class="m" x="742.86" y="175.11" fill="#41990f" text-anchor="end" xml:space="preserve">98º</text>
<text class="m" x="789.92" y="175.11" fill="#41990f" text-anchor="end" xml:space="preserve">(86º)</text>
<text class="m" x="326.10" y="186.29" fill="#1060d0" text-anchor="start" xml:space="preserve">KCOP-TV</text>
<text class="m" x="413.49" y="186.29" fill="#1060d0" text-anchor="end" xml:space="preserve">13</text>
<text class="m" x="460.54" y="186.29" fill="#1060d0" text-anchor="end" xml:space="preserve">(13.1)</text>
<text class="m" x="494.15" y="186.29" fill="#1060d0" text-anchor="end" xml:space="preserve">MyN</text>
<text class="m" x="547.93" y="186.29" fill="#1060d0" text-anchor="end" xml:space="preserve">3.9</text>
<text class="m" x="608.42" y="186.29" fill="#1060d0" text-anchor="end" xml:space="preserve">-87.0</text>
<text class="m" x="621.87" y="186.29" fill="#1060d0" text-anchor="start" xml:space="preserve">1Edge</text>
<text class="m" x="702.53" y="186.29" fill="#1060d0" text-anchor="end" xml:space="preserve">93.8</text>
<text class="m" x="742.86" y="186.29" fill="#41990f" text-anchor="end" xml:space="preserve">98º</text>
<text class="m" x="789.92" y="186.29" fill="#41990f" text-anchor="end" xml:space="preserve">(86º)</text>
<text class="m" x="326.10" y="197.46" fill="#1060d0" text-anchor="start" xml:space="preserve">KBEH</text>
<text class="m" x="413.49" y="197.46" fill="#1060d0" text-anchor="end" xml:space="preserve">24</text>
<text class="m" x="460.54" y="197.46" fill="#1060d0" text-anchor="end" xml:space="preserve">(63.1)</text>
<text class="m" x="494.15" y="197.46" fill="#1060d0" text-anchor="end" xml:space="preserve">Ind</text>
<text class="m" x="547.93" y="197.46" fill="#1060d0" text-anchor="end" xml:space="preserve">2.1</text>
<text class="m" x="608.42" y="197.46" fill="#1060d0" text-anchor="end" xml:space="preserve">-88.8</text>
<text class="m" x="621.87" y="197.46" fill="#1060d0" text-anchor="start" xml:space="preserve">2Edge</text>
<text class="m" x="702.53" y="197.46" fill="#1060d0" text-anchor="end" xml:space="preserve">94.0</text>
<text class="m" x="742.86" y="197.46" fill="#41990f" text-anchor="end" xml:space="preserve">98º</text>
<text class="m" x="789.92" y="197.46" fill="#41990f" text-anchor="end" xml:space="preserve">(86º)</text>
<rect x="312.56" y="200.09" width="6.72" height="11.18" fill="#c00000"/>
<text class="m" x="312.66" y="208.64" fill="#fff" text-anchor="start" xml:space="preserve">C</text>
<text class="m" x="326.10" y="208.64" fill="#1060d0" text-anchor="start" xml:space="preserve">KIMG-LD</text>
<text class="m" x="413.49" y="208.64" fill="#1060d0" text-anchor="end" xml:space="preserve">23</text>
<text class="m" x="547.93" y="208.64" fill="#1060d0" text-anchor="end" xml:space="preserve">1.8</text>
<text class="m" x="608.42" y="208.64" fill="#1060d0" text-anchor="end" xml:space="preserve">-89.0</text>
<text class="m" x="621.87" y="208.64" fill="#1060d0" text-anchor="start" xml:space="preserve">1Edge</text>
<text class="m" x="702.53" y="208.64" fill="#1060d0" text-anchor="end" xml:space="preserve">20.7</text>
<text class="m" x="742.86" y="208.64" fill="#34990f" text-anchor="end" xml:space="preserve">104º</text>
<text class="m" x="789.92" y="208.64" fill="#34990f" text-anchor="end" xml:space="preserve">(92º)</text>
<rect x="312.56" y="211.27" width="6.72" height="11.18" fill="#c00000"/>
<text class="m" x="312.66" y="219.82" fill="#fff" text-anchor="start" xml:space="preserve">C</text>
<text class="m" x="326.10" y="219.82" fill="#1060d0" text-anchor="start" xml:space="preserve">KRCA</text>
<text class="m" x="413.49" y="219.82" fill="#1060d0" text-anchor="end" xml:space="preserve">35</text>
<text class="m" x="460.54" y="219.82" fill="#1060d0" text-anchor="end" xml:space="preserve">(62.1)</text>
<text class="m" x="494.15" y="219.82" fill="#1060d0" text-anchor="end" xml:space="preserve">Ind</text>
<text class="m" x="547.93" y="219.82" fill="#1060d0" text-anchor="end" xml:space="preserve">-0.8</text>
<text class="m" x="608.42" y="219.82" fill="#1060d0" text-anchor="end" xml:space="preserve">-91.6</text>
<text class="m" x="621.87" y="219.82" fill="#1060d0" text-anchor="start" xml:space="preserve">2Edge</text>
<text class="m" x="702.53" y="219.82" fill="#1060d0" text-anchor="end" xml:space="preserve">94.0</text>
<text class="m" x="742.86" y="219.82" fill="#41990f" text-anchor="end" xml:space="preserve">98º</text>
<text class="m" x="789.92" y="219.82" fill="#41990f" text-anchor="end" xml:space="preserve">(86º)</text>
<rect x="312.56" y="222.44" width="6.72" height="11.18" fill="#c00000"/>
<text class="m" x="312.66" y="230.99" fill="#fff" text-anchor="start" xml:space="preserve">C</text>
<text class="m" x="326.10" y="230.99" fill="#1060d0" text-anchor="start" xml:space="preserve">KTLA</text>
<text class="m" x="413.49" y="230.99" fill="#1060d0" text-anchor="end" xml:space="preserve">35</text>
<text class="m" x="494.15" y="230.99" fill="#1060d0" text-anchor="end" xml:space="preserve">CW</text>
<text class="m" x="547.93" y="230.99" fill="#1060d0" text-anchor="end" xml:space="preserve">-1.0</text>
<text class="m" x="608.42" y="230.99" fill="#1060d0" text-anchor="end" xml:space="preserve">-91.8</text>
<text class="m" x="621.87" y="230.99" fill="#1060d0" text-anchor="start" xml:space="preserve">1Edge</text>
<text class="m" x="702.53" y="230.99" fill="#1060d0" text-anchor="end" xml:space="preserve">93.6</text>
<text class="m" x="742.86" y="230.99" fill="#41990f" text-anchor="end" xml:space="preserve">98º</text>
<text class="m" x="789.92" y="230.99" fill="#41990f" text-anchor="end" xml:space="preserve">(86º)</text>
<rect x="305.83" y="233.62" width="6.72" height="11.18" fill="#fa7e7e"/>
<text class="m" x="305.93" y="242.17" fill="#fff" text-anchor="start" xml:space="preserve">a</text>
<text class="m" x="326.10" y="242.17" fill="#1060d0" text-anchor="start" xml:space="preserve">KCAL-DT</text>
<text class="m" x="413.49" y="242.17" fill="#1060d0" text-anchor="end" xml:space="preserve">9</text>
<text class="m" x="460.54" y="242.17" fill="#1060d0" text-anchor="end" xml:space="preserve">(9.1)</text>
<text class="m" x="494.15" y="242.17" fill="#1060d0" text-anchor="end" xml:space="preserve">Ind</text>
<text class="m" x="547.93" y="242.17" fill="#1060d0" text-anchor="end" xml:space="preserve">-1.1</text>
<text class="m" x="608.42" y="242.17" fill="#1060d0" text-anchor="end" xml:space="preserve">-91.9</text>
<text class="m" x="621.87" y="242.17" fill="#1060d0" text-anchor="start" xml:space="preserve">1Edge</text>
<text class="m" x="702.53" y="242.17" fill="#1060d0" text-anchor="end" xml:space="preserve">93.6</text>
<text class="m" x="742.86" y="242.17" fill="#41990f" text-anchor="end" xml:space="preserve">98º</text>
<text class="m" x="789.92" y="242.17" fill="#41990f" text-anchor="end" xml:space="preserve">(86º)</text>
<rect x="305.83" y="244.79" width="6.72" height="11.18" fill="#fa7e7e"/>
<text class="m" x="305.93" y="253.34" fill="#fff" text-anchor="start" xml:space="preserve">a</text>
<text class="m" x="326.10" y="253.34" fill="#1060d0" text-anchor="start" xml:space="preserve">KJLA-DT</text>
<text class="m" x="413.49" y="253.34" fill="#1060d0" text-anchor="end" xml:space="preserve">49</text>
<text class="m" x="460.54" y="253.34" fill="#1060d0" text-anchor="end" xml:space="preserve">(57.1)</text>
<text class="m" x="494.15" y="253.34" fill="#1060d0" text-anchor="end" xml:space="preserve">Ind</text>
<text class="m" x="547.93" y="253.34" fill="#1060d0" text-anchor="end" xml:space="preserve">-1.5</text>
<text class="m" x="608.42" y="253.34" fill="#1060d0" text-anchor="end" xml:space="preserve">-92.4</text>
<text class="m" x="621.87" y="253.34" fill="#1060d0" text-anchor="start" xml:space="preserve">1Edge</text>
<text class="m" x="702.53" y="253.34" fill="#1060d0" text-anchor="end" xml:space="preserve">93.6</text>
<text class="m" x="742.86" y="253.34" fill="#41990f" text-anchor="end" xml:space="preserve">98º</text>
<text class="m" x="789.92" y="253.34" fill="#41990f" text-anchor="end" xml:space="preserve">(86º)</text>
<text class="m" x="326.10" y="264.52" fill="#1060d0" text-anchor="start" xml:space="preserve">KNBC-DT</text>
<text class="m" x="413.49" y="264.52" fill="#1060d0" text-anchor="end" xml:space="preserve">36</text>
<text class="m" x="460.54" y="264.52" fill="#1060d0" text-anchor="end" xml:space="preserve">(4.1)</text>
<text class="m" x="494.15" y="264.52" fill="#1060d0" text-anchor="end" xml:space="preserve">NBC</text>
<text class="m" x="547.93" y="264.52" fill="#1060d0" text-anchor="end" xml:space="preserve">-3.4</text>
<text class="m" x="608.42" y="264.52" fill="#1060d0" text-anchor="end" xml:space="preserve">-94.2</text>
<text class="m" x="621.87" y="264.52" fill="#1060d0" text-anchor="start" xml:space="preserve">1Edge</text>
<text class="m" x="702.53" y="264.52" fill="#1060d0" text-anchor="end" xml:space="preserve">93.7</text>
<text class="m" x="742.86" y="264.52" fill="#41990f" text-anchor="end" xml:space="preserve">98º</text>
<text class="m" x="789.92" y="264.52" fill="#41990f" text-anchor="end" xml:space="preserve">(86º)</text>
<text class="m" x="326.10" y="275.70" fill="#1060d0" text-anchor="start" xml:space="preserve">KOCE-DT</text>
<text class="m" x="413.49" y="275.70" fill="#1060d0" text-anchor="end" xml:space="preserve">48</text>
<text class="m" x="460.54" y="275.70" fill="#1060d0" text-anchor="end" xml:space="preserve">(50.1)</text>
<text class="m" x="494.15" y="275.70" fill="#1060d0" text-anchor="end" xml:space="preserve">PBS</text>
<text class="m" x="547.93" y="275.70" fill="#1060d0" text-anchor="end" xml:space="preserve">-4.3</text>
<text class="m" x="608.42" y="275.70" fill="#1060d0" text-anchor="end" xml:space="preserve">-95.1</text>
<text class="m" x="621.87" y="275.70" fill="#1060d0" text-anchor="start" xml:space="preserve">1Edge</text>
<text class="m" x="702.53" y="275.70" fill="#1060d0" text-anchor="end" xml:space="preserve">93.6</text>
<text class="m" x="742.86" y="275.70" fill="#41990f" text-anchor="end" xml:space="preserve">98º</text>
<text class="m" x="789.92" y="275.70" fill="#41990f" text-anchor="end" xml:space="preserve">(86º)</text>
<text class="m" x="326.10" y="286.87" fill="#1060d0" text-anchor="start" xml:space="preserve">KMEX-DT</text>
<text class="m" x="413.49" y="286.87" fill="#1060d0" text-anchor="end" xml:space="preserve">34</text>
<text class="m" x="460.54" y="286.87" fill="#1060d0" text-anchor="end" xml:space="preserve">(34.1)</text>
<text class="m" x="494.15" y="286.87" fill="#1060d0" text-anchor="end" xml:space="preserve">Uni</text>
<text class="m" x="547.93" y="286.87" fill="#1060d0" text-anchor="end" xml:space="preserve">-4.3</text>
<text class="m" x="608.42" y="286.87" fill="#1060d0" text-anchor="end" xml:space="preserve">-95.2</text>
<text class="m" x="621.87" y="286.87" fill="#1060d0" text-anchor="start" xml:space="preserve">1Edge</text>
<text class="m" x="702.53" y="286.87" fill="#1060d0" text-anchor="end" xml:space="preserve">93.6</text>
<text class="m" x="742.86" y="286.87" fill="#41990f" text-anchor="end" xml:space="preserve">98º</text>
<text class="m" x="789.92" y="286.87" fill="#41990f" text-anchor="end" xml:space="preserve">(86º)</text>
<rect x="305.83" y="289.50" width="6.72" height="11.18" fill="#fa7e7e"/>
<text class="m" x="305.93" y="298.05" fill="#fff" text-anchor="start" xml:space="preserve">a</text>
<text class="m" x="326.10" y="298.05" fill="#1060d0" text-anchor="start" xml:space="preserve">KFTR-DT</text>
<text class="m" x="413.49" y="298.05" fill="#1060d0" text-anchor="end" xml:space="preserve">29</text>
<text class="m" x="460.54" y="298.05" fill="#1060d0" text-anchor="end" xml:space="preserve">(46.1)</text>
<text class="m" x="494.15" y="298.05" fill="#1060d0" text-anchor="end" xml:space="preserve">Tel</text>
<text class="m" x="547.93" y="298.05" fill="#1060d0" text-anchor="end" xml:space="preserve">-4.5</text>
<text class="m" x="608.42" y="298.05" fill="#1060d0" text-anchor="end" xml:space="preserve">-95.3</text>
<text class="m" x="621.87" y="298.05" fill="#1060d0" text-anchor="start" xml:space="preserve">1Edge</text>
<text class="m" x="702.53" y="298.05" fill="#1060d0" text-anchor="end" xml:space="preserve">93.6</text>
<text class="m" x="742.86" y="298.05" fill="#41990f" text-anchor="end" xml:space="preserve">98º</text>
<text class="m" x="789.92" y="298.05" fill="#41990f" text-anchor="end" xml:space="preserve">(86º)</text>
<rect x="312.56" y="300.67" width="6.72" height="11.18" fill="#c00000"/>
<text class="m" x="312.66" y="309.22" fill="#fff" text-anchor="start" xml:space="preserve">C</text>
<text class="m" x="326.10" y="309.22" fill="#1060d0" text-anchor="start" xml:space="preserve">KZNO-LP</text>
<text class="m" x="413.49" y="309.22" fill="#1060d0" text-anchor="end" xml:space="preserve">6</text>
<text class="m" x="460.54" y="309.22" fill="#1060d0" text-anchor="end" xml:space="preserve">(6.1)</text>
<text class="m" x="547.93" y="309.22" fill="#1060d0" text-anchor="end" xml:space="preserve">-5.2</text>
<text class="m" x="608.42" y="309.22" fill="#1060d0" text-anchor="end" xml:space="preserve">-96.0</text>
<text class="m" x="621.87" y="309.22" fill="#1060d0" text-anchor="start" xml:space="preserve">2Edge</text>
<text class="m" x="702.53" y="309.22" fill="#1060d0" text-anchor="end" xml:space="preserve">94.0</text>
<text class="m" x="742.86" y="309.22" fill="#41990f" text-anchor="end" xml:space="preserve">98º</text>
<text class="m" x="789.92" y="309.22" fill="#41990f" text-anchor="end" xml:space="preserve">(86º)</text>
<text class="m" x="326.10" y="320.40" fill="#1060d0" text-anchor="start" xml:space="preserve">KAZA-TV</text>
<text class="m" x="413.49" y="320.40" fill="#1060d0" text-anchor="end" xml:space="preserve">47</text>
<text class="m" x="494.15" y="320.40" fill="#1060d0" text-anchor="end" xml:space="preserve">Azt</text>
<text class="m" x="547.93" y="320.40" fill="#1060d0" text-anchor="end" xml:space="preserve">-5.9</text>
<text class="m" x="608.42" y="320.40" fill="#1060d0" text-anchor="end" xml:space="preserve">-96.7</text>
<text class="m" x="621.87" y="320.40" fill="#1060d0" text-anchor="start" xml:space="preserve">1Edge</text>
<text class="m" x="702.53" y="320.40" fill="#1060d0" text-anchor="end" xml:space="preserve">93.6</text>
<text class="m" x="742.86" y="320.40" fill="#41990f" text-anchor="end" xml:space="preserve">98º</text>
<text class="m" x="789.92" y="320.40" fill="#41990f" text-anchor="end" xml:space="preserve">(86º)</text>
<text class="m" x="326.10" y="331.58" fill="#1060d0" text-anchor="start" xml:space="preserve">KLCS</text>
<text class="m" x="413.49" y="331.58" fill="#1060d0" text-anchor="end" xml:space="preserve">41</text>
<text class="m" x="460.54" y="331.58" fill="#1060d0" text-anchor="end" xml:space="preserve">(58.1)</text>
<text class="m" x="494.15" y="331.58" fill="#1060d0" text-anchor="end" xml:space="preserve">PBS</text>
<text class="m" x="547.93" y="331.58" fill="#1060d0" text-anchor="end" xml:space="preserve">-6.5</text>
<text class="m" x="608.42" y="331.58" fill="#1060d0" text-anchor="end" xml:space="preserve">-97.4</text>
<text class="m" x="621.87" y="331.58" fill="#1060d0" text-anchor="start" xml:space="preserve">1Edge</text>
<text class="m" x="702.53" y="331.58" fill="#1060d0" text-anchor="end" xml:space="preserve">93.8</text>
<text class="m" x="742.86" y="331.58" fill="#41990f" text-anchor="end" xml:space="preserve">98º</text>
<text class="m" x="789.92" y="331.58" fill="#41990f" text-anchor="end" xml:space="preserve">(86º)</text>
<text class="m" x="326.10" y="342.75" fill="#1060d0" text-anchor="start" xml:space="preserve">KVEA</text>
<text class="m" x="413.49" y="342.75" fill="#1060d0" text-anchor="end" xml:space="preserve">39</text>
<text class="m" x="460.54" y="342.75" fill="#1060d0" text-anchor="end" xml:space="preserve">(52.1)</text>
<text class="m" x="494.15" y="342.75" fill="#1060d0" text-anchor="end" xml:space="preserve">TEL</text>
<text class="m" x="547.93" y="342.75" fill="#1060d0" text-anchor="end" xml:space="preserve">-7.1</text>
<text class="m" x="608.42" y="342.75" fill="#1060d0" text-anchor="end" xml:space="preserve">-98.0</text>
<text class="m" x="621.87" y="342.75" fill="#1060d0" text-anchor="start" xml:space="preserve">2Edge</text>
<text class="m" x="702.53" y="342.75" fill="#1060d0" text-anchor="end" xml:space="preserve">94.0</text>
<text class="m" x="742.86" y="342.75" fill="#41990f" text-anchor="end" xml:space="preserve">98º</text>
<text class="m" x="789.92" y="342.75" fill="#41990f" text-anchor="end" xml:space="preserve">(86º)</text>
<text class="m" x="326.10" y="353.93" fill="#1060d0" text-anchor="start" xml:space="preserve">KTBN-TV</text>
<text class="m" x="413.49" y="353.93" fill="#1060d0" text-anchor="end" xml:space="preserve">33</text>
<text class="m" x="460.54" y="353.93" fill="#1060d0" text-anchor="end" xml:space="preserve">(40.1)</text>
<text class="m" x="494.15" y="353.93" fill="#1060d0" text-anchor="end" xml:space="preserve">Ind</text>
<text class="m" x="547.93" y="353.93" fill="#1060d0" text-anchor="end" xml:space="preserve">-8.1</text>
<text class="m" x="608.42" y="353.93" fill="#1060d0" text-anchor="end" xml:space="preserve">-98.9</text>
<text class="m" x="621.87" y="353.93" fill="#1060d0" text-anchor="start" xml:space="preserve">1Edge</text>
<text class="m" x="702.53" y="353.93" fill="#1060d0" text-anchor="end" xml:space="preserve">93.8</text>
<text class="m" x="742.86" y="353.93" fill="#41990f" text-anchor="end" xml:space="preserve">98º</text>
<text class="m" x="789.92" y="353.93" fill="#41990f" text-anchor="end" xml:space="preserve">(86º)</text>
<rect x="305.83" y="356.55" width="6.72" height="11.18" fill="#fa7e7e"/>
<text class="m" x="305.93" y="365.10" fill="#fff" text-anchor="start" xml:space="preserve">a</text>
<rect x="312.56" y="356.55" width="6.72" height="11.18" fill="#c00000"/>
<text class="m" x="312.66" y="365.10" fill="#fff" text-anchor="start" xml:space="preserve">C</text>
<text class="m" x="326.10" y="365.10" fill="#1060d0" text-anchor="start" xml:space="preserve">KFLA-LD</text>
<text class="m" x="413.49" y="365.10" fill="#1060d0" text-anchor="end" xml:space="preserve">8</text>
<text class="m" x="460.54" y="365.10" fill="#1060d0" text-anchor="end" xml:space="preserve">(8.1)</text>
<text class="m" x="547.93" y="365.10" fill="#1060d0" text-anchor="end" xml:space="preserve">-8.3</text>
<text class="m" x="608.42" y="365.10" fill="#1060d0" text-anchor="end" xml:space="preserve">-99.1</text>
<text class="m" x="621.87" y="365.10" fill="#1060d0" text-anchor="start" xml:space="preserve">1Edge</text>
<text class="m" x="702.53" y="365.10" fill="#1060d0" text-anchor="end" xml:space="preserve">93.6</text>
<text class="m" x="742.86" y="365.10" fill="#41990f" text-anchor="end" xml:space="preserve">98º</text>
<text class="m" x="789.92" y="365.10" fill="#41990f" text-anchor="end" xml:space="preserve">(86º)</text>
<rect x="312.56" y="367.73" width="6.72" height="11.18" fill="#c00000"/>
<text class="m" x="312.66" y="376.28" fill="#fff" text-anchor="start" xml:space="preserve">C</text>
<text class="m" x="326.10" y="376.28" fill="#1060d0" text-anchor="start" xml:space="preserve">KILM</text>
<text class="m" x="413.49" y="376.28" fill="#1060d0" text-anchor="end" xml:space="preserve">44</text>
<text class="m" x="460.54" y="376.28" fill="#1060d0" text-anchor="end" xml:space="preserve">(64.1)</text>
<text class="m" x="547.93" y="376.28" fill="#1060d0" text-anchor="end" xml:space="preserve">-9.2</text>
<text class="m" x="608.42" y="376.28" fill="#1060d0" text-anchor="end" xml:space="preserve">-100.1</text>
<text class="m" x="621.87" y="376.28" fill="#1060d0" text-anchor="start" xml:space="preserve">2Edge</text>
<text class="m" x="702.53" y="376.28" fill="#1060d0" text-anchor="end" xml:space="preserve">94.0</text>
<text class="m" x="742.86" y="376.28" fill="#41990f" text-anchor="end" xml:space="preserve">98º</text>
<text class="m" x="789.92" y="376.28" fill="#41990f" text-anchor="end" xml:space="preserve">(86º)</text>
<rect x="305.83" y="378.91" width="6.72" height="11.18" fill="#fa7e7e"/>
<text class="m" x="305.93" y="387.46" fill="#fff" text-anchor="start" xml:space="preserve">a</text>
<text class="m" x="326.10" y="387.46" fill="#1060d0" text-anchor="start" xml:space="preserve">KSCI</text>
<text class="m" x="413.49" y="387.46" fill="#1060d0" text-anchor="end" xml:space="preserve">18</text>
<text class="m" x="460.54" y="387.46" fill="#1060d0" text-anchor="end" xml:space="preserve">(18.1)</text>
<text class="m" x="494.15" y="387.46" fill="#1060d0" text-anchor="end" xml:space="preserve">Ind</text>
<text class="m" x="547.93" y="387.46" fill="#1060d0" text-anchor="end" xml:space="preserve">-10.0</text>
<text class="m" x="608.42" y="387.46" fill="#1060d0" text-anchor="end" xml:space="preserve">-100.8</text>
<text class="m" x="621.87" y="387.46" fill="#1060d0" text-anchor="start" xml:space="preserve">2Edge</text>
<text class="m" x="702.53" y="387.46" fill="#1060d0" text-anchor="end" xml:space="preserve">94.0</text>
<text class="m" x="742.86" y="387.46" fill="#41990f" text-anchor="end" xml:space="preserve">98º</text>
<text class="m" x="789.92" y="387.46" fill="#41990f" text-anchor="end" xml:space="preserve">(86º)</text>
<rect x="305.83" y="390.08" width="6.72" height="11.18" fill="#fa7e7e"/>
<text class="m" x="305.93" y="398.63" fill="#fff" text-anchor="start" xml:space="preserve">a</text>
<rect x="312.56" y="390.08" width="6.72" height="11.18" fill="#c00000"/>
<text class="m" x="312.66" y="398.63" fill="#fff" text-anchor="start" xml:space="preserve">C</text>
<text class="m" x="326.10" y="398.63" fill="#1060d0" text-anchor="start" xml:space="preserve">KCET</text>
<text class="m" x="413.49" y="398.63" fill="#1060d0" text-anchor="end" xml:space="preserve">28</text>
<text class="m" x="460.54" y="398.63" fill="#1060d0" text-anchor="end" xml:space="preserve">(28.1)</text>
<text class="m" x="494.15" y="398.63" fill="#1060d0" text-anchor="end" xml:space="preserve">PBS</text>
<text class="m" x="547.93" y="398.63" fill="#1060d0" text-anchor="end" xml:space="preserve">-11.5</text>
<text class="m" x="608.42" y="398.63" fill="#1060d0" text-anchor="end" xml:space="preserve">-102.4</text>
<text class="m" x="621.87" y="398.63" fill="#1060d0" text-anchor="start" xml:space="preserve">1Edge</text>
<text class="m" x="702.53" y="398.63" fill="#1060d0" text-anchor="end" xml:space="preserve">93.9</text>
<text class="m" x="742.86" y="398.63" fill="#41990f" text-anchor="end" xml:space="preserve">98º</text>
<text class="m" x="789.92" y="398.63" fill="#41990f" text-anchor="end" xml:space="preserve">(86º)</text>
<text class="m" x="326.10" y="409.81" fill="#1060d0" text-anchor="start" xml:space="preserve">KPXN-DT</text>
<text class="m" x="413.49" y="409.81" fill="#1060d0" text-anchor="end" xml:space="preserve">38</text>
<text class="m" x="460.54" y="409.81" fill="#1060d0" text-anchor="end" xml:space="preserve">(30.1)</text>
<text class="m" x="494.15" y="409.81" fill="#1060d0" text-anchor="end" xml:space="preserve">ION</text>
<text class="m" x="547.93" y="409.81" fill="#1060d0" text-anchor="end" xml:space="preserve">-15.5</text>
<text class="m" x="608.42" y="409.81" fill="#1060d0" text-anchor="end" xml:space="preserve">-106.4</text>
<text class="m" x="621.87" y="409.81" fill="#1060d0" text-anchor="start" xml:space="preserve">2Edge</text>
<text class="m" x="702.53" y="409.81" fill="#1060d0" text-anchor="end" xml:space="preserve">94.0</text>
<text class="m" x="742.86" y="409.81" fill="#41990f" text-anchor="end" xml:space="preserve">98º</text>
<text class="m" x="789.92" y="409.81" fill="#41990f" text-anchor="end" xml:space="preserve">(86º)</text>
<text class="m" x="326.10" y="420.98" fill="#1060d0" text-anchor="start" xml:space="preserve">KVHD-LD</text>
<text class="m" x="413.49" y="420.98" fill="#1060d0" text-anchor="end" xml:space="preserve">40</text>
<text class="m" x="460.54" y="420.98" fill="#1060d0" text-anchor="end" xml:space="preserve">(26.1)</text>
<text class="m" x="547.93" y="420.98" fill="#1060d0" text-anchor="end" xml:space="preserve">-19.8</text>
<text class="m" x="608.42" y="420.98" fill="#1060d0" text-anchor="end" xml:space="preserve">-110.7</text>
<text class="m" x="621.87" y="420.98" fill="#1060d0" text-anchor="start" xml:space="preserve">1Edge</text>
<text class="m" x="702.53" y="420.98" fill="#1060d0" text-anchor="end" xml:space="preserve">93.6</text>
<text class="m" x="742.86" y="420.98" fill="#41990f" text-anchor="end" xml:space="preserve">98º</text>
<text class="m" x="789.92" y="420.98" fill="#41990f" text-anchor="end" xml:space="preserve">(86º)</text>
<text class="m" x="326.10" y="432.16" fill="#1060d0" text-anchor="start" xml:space="preserve">KTAV-LD</text>
<text class="m" x="413.49" y="432.16" fill="#1060d0" text-anchor="end" xml:space="preserve">46</text>
<text class="m" x="460.54" y="432.16" fill="#1060d0" text-anchor="end" xml:space="preserve">(35.1)</text>
<text class="m" x="547.93" y="432.16" fill="#1060d0" text-anchor="end" xml:space="preserve">-20.7</text>
<text class="m" x="608.42" y="432.16" fill="#1060d0" text-anchor="end" xml:space="preserve">-111.5</text>
<text class="m" x="621.87" y="432.16" fill="#1060d0" text-anchor="start" xml:space="preserve">1Edge</text>
<text class="m" x="702.53" y="432.16" fill="#1060d0" text-anchor="end" xml:space="preserve">93.6</text>
<text class="m" x="742.86" y="432.16" fill="#41990f" text-anchor="end" xml:space="preserve">98º</text>
<text class="m" x="789.92" y="432.16" fill="#41990f" text-anchor="end" xml:space="preserve">(86º)</text>
<rect x="305.83" y="434.79" width="6.72" height="11.18" fill="#fa7e7e"/>
<text class="m" x="305.93" y="443.34" fill="#fff" text-anchor="start" xml:space="preserve">a</text>
<rect x="312.56" y="434.79" width="6.72" height="11.18" fill="#c00000"/>
<text class="m" x="312.66" y="443.34" fill="#fff" text-anchor="start" xml:space="preserve">C</text>
<text class="m" x="326.10" y="443.34" fill="#1060d0" text-anchor="start" xml:space="preserve">KNLA-CD</text>
<text class="m" x="413.49" y="443.34" fill="#1060d0" text-anchor="end" xml:space="preserve">50</text>
<text class="m" x="460.54" y="443.34" fill="#1060d0" text-anchor="end" xml:space="preserve">(20.1)</text>
<text class="m" x="547.93" y="443.34" fill="#1060d0" text-anchor="end" xml:space="preserve">-24.6</text>
<text class="m" x="608.42" y="443.34" fill="#1060d0" text-anchor="end" xml:space="preserve">-115.5</text>
<text class="m" x="621.87" y="443.34" fill="#1060d0" text-anchor="start" xml:space="preserve">1Edge</text>
<text class="m" x="702.53" y="443.34" fill="#1060d0" text-anchor="end" xml:space="preserve">93.2</text>
<text class="m" x="742.86" y="443.34" fill="#41990f" text-anchor="end" xml:space="preserve">98º</text>
<text class="m" x="789.92" y="443.34" fill="#41990f" text-anchor="end" xml:space="preserve">(86º)</text>
<rect x="305.83" y="445.96" width="6.72" height="11.18" fill="#fa7e7e"/>
<text class="m" x="305.93" y="454.51" fill="#fff" text-anchor="start" xml:space="preserve">a</text>
<rect x="312.56" y="445.96" width="6.72" height="11.18" fill="#c00000"/>
<text class="m" x="312.66" y="454.51" fill="#fff" text-anchor="start" xml:space="preserve">C</text>
<text class="m" x="326.10" y="454.51" fill="#1060d0" text-anchor="start" xml:space="preserve">KSMV-LD</text>
<text class="m" x="413.49" y="454.51" fill="#1060d0" text-anchor="end" xml:space="preserve">23</text>
<text class="m" x="460.54" y="454.51" fill="#1060d0" text-anchor="end" xml:space="preserve">(31.1)</text>
<text class="m" x="547.93" y="454.51" fill="#1060d0" text-anchor="end" xml:space="preserve">-25.7</text>
<text class="m" x="608.42" y="454.51" fill="#1060d0" text-anchor="end" xml:space="preserve">-116.5</text>
<text class="m" x="621.87" y="454.51" fill="#1060d0" text-anchor="start" xml:space="preserve">1Edge</text>
<text class="m" x="702.53" y="454.51" fill="#1060d0" text-anchor="end" xml:space="preserve">93.6</text>
<text class="m" x="742.86" y="454.51" fill="#41990f" text-anchor="end" xml:space="preserve">98º</text>
<text class="m" x="789.92" y="454.51" fill="#41990f" text-anchor="end" xml:space="preserve">(86º)</text>
<rect x="305.83" y="457.14" width="6.72" height="11.18" fill="#fa7e7e"/>
<text class="m" x="305.93" y="465.69" fill="#fff" text-anchor="start" xml:space="preserve">a</text>
<text class="m" x="326.10" y="465.69" fill="#1060d0" text-anchor="start" xml:space="preserve">KRVD-LD</text>
<text class="m" x="413.49" y="465.69" fill="#1060d0" text-anchor="end" xml:space="preserve">5</text>
<text class="m" x="460.54" y="465.69" fill="#1060d0" text-anchor="end" xml:space="preserve">(33.1)</text>
<text class="m" x="547.93" y="465.69" fill="#1060d0" text-anchor="end" xml:space="preserve">-26.8</text>
<text class="m" x="608.42" y="465.69" fill="#1060d0" text-anchor="end" xml:space="preserve">-117.6</text>
<text class="m" x="621.87" y="465.69" fill="#1060d0" text-anchor="start" xml:space="preserve">2Edge</text>
<text class="m" x="702.53" y="465.69" fill="#1060d0" text-anchor="end" xml:space="preserve">114.5</text>
<text class="m" x="742.86" y="465.69" fill="#41990f" text-anchor="end" xml:space="preserve">98º</text>
<text class="m" x="789.92" y="465.69" fill="#41990f" text-anchor="end" xml:space="preserve">(86º)</text>
<rect x="305.83" y="468.31" width="6.72" height="11.18" fill="#fa7e7e"/>
<text class="m" x="305.93" y="476.86" fill="#fff" text-anchor="start" xml:space="preserve">a</text>
<text class="m" x="326.10" y="476.86" fill="#1060d0" text-anchor="start" xml:space="preserve">KBEH</text>
<text class="m" x="413.49" y="476.86" fill="#1060d0" text-anchor="end" xml:space="preserve">24</text>
<text class="m" x="494.15" y="476.86" fill="#1060d0" text-anchor="end" xml:space="preserve">Ind</text>
<text class="m" x="547.93" y="476.86" fill="#1060d0" text-anchor="end" xml:space="preserve">-27.1</text>
<text class="m" x="608.42" y="476.86" fill="#1060d0" text-anchor="end" xml:space="preserve">-117.9</text>
<text class="m" x="621.87" y="476.86" fill="#1060d0" text-anchor="start" xml:space="preserve">1Edge</text>
<text class="m" x="702.53" y="476.86" fill="#1060d0" text-anchor="end" xml:space="preserve">38.4</text>
<text class="m" x="742.86" y="476.86" fill="#3f990f" text-anchor="end" xml:space="preserve">99º</text>
<text class="m" x="789.92" y="476.86" fill="#3f990f" text-anchor="end" xml:space="preserve">(87º)</text>
<rect x="305.83" y="479.49" width="6.72" height="11.18" fill="#fa7e7e"/>
<text class="m" x="305.93" y="488.04" fill="#fff" text-anchor="start" xml:space="preserve">a</text>
<rect x="312.56" y="479.49" width="6.72" height="11.18" fill="#c00000"/>
<text class="m" x="312.66" y="488.04" fill="#fff" text-anchor="start" xml:space="preserve">C</text>
<text class="m" x="326.10" y="488.04" fill="#1060d0" text-anchor="start" xml:space="preserve">K10OG-D</text>
<text class="m" x="413.49" y="488.04" fill="#1060d0" text-anchor="end" xml:space="preserve">10</text>
<text class="m" x="547.93" y="488.04" fill="#1060d0" text-anchor="end" xml:space="preserve">-28.0</text>
<text class="m" x="608.42" y="488.04" fill="#1060d0" text-anchor="end" xml:space="preserve">-118.9</text>
<text class="m" x="621.87" y="488.04" fill="#1060d0" text-anchor="start" xml:space="preserve">2Edge</text>
<text class="m" x="702.53" y="488.04" fill="#1060d0" text-anchor="end" xml:space="preserve">48.5</text>
<text class="m" x="742.86" y="488.04" fill="#b913c1" text-anchor="end" xml:space="preserve">297º</text>
<text class="m" x="789.92" y="488.04" fill="#b913c1" text-anchor="end" xml:space="preserve">(285º)</text>
<rect x="305.83" y="490.67" width="6.72" height="11.18" fill="#fa7e7e"/>
<text class="m" x="305.93" y="499.22" fill="#fff" text-anchor="start" xml:space="preserve">a</text>
<text class="m" x="326.10" y="499.22" fill="#1060d0" text-anchor="start" xml:space="preserve">KDFS-CD</text>
<text class="m" x="413.49" y="499.22" fill="#1060d0" text-anchor="end" xml:space="preserve">30</text>
<text class="m" x="547.93" y="499.22" fill="#1060d0" text-anchor="end" xml:space="preserve">-36.5</text>
<text class="m" x="608.42" y="499.22" fill="#1060d0" text-anchor="end" xml:space="preserve">-127.4</text>
<text class="m" x="621.87" y="499.22" fill="#1060d0" text-anchor="start" xml:space="preserve">1Edge</text>
<text class="m" x="702.53" y="499.22" fill="#1060d0" text-anchor="end" xml:space="preserve">61.1</text>
<text class="m" x="742.86" y="499.22" fill="#c113b9" text-anchor="end" xml:space="preserve">303º</text>
<text class="m" x="789.92" y="499.22" fill="#c113b9" text-anchor="end" xml:space="preserve">(291º)</text>
<rect x="305.83" y="501.84" width="6.72" height="11.18" fill="#fa7e7e"/>
<text class="m" x="305.93" y="510.39" fill="#fff" text-anchor="start" xml:space="preserve">a</text>
<rect x="312.56" y="501.84" width="6.72" height="11.18" fill="#c00000"/>
<text class="m" x="312.66" y="510.39" fill="#fff" text-anchor="start" xml:space="preserve">C</text>
<text class="m" x="326.10" y="510.39" fill="#1060d0" text-anchor="start" xml:space="preserve">KVCR-DT</text>
<text class="m" x="413.49" y="510.39" fill="#1060d0" text-anchor="end" xml:space="preserve">26</text>
<text class="m" x="460.54" y="510.39" fill="#1060d0" text-anchor="end" xml:space="preserve">(24.1)</text>
<text class="m" x="494.15" y="510.39" fill="#1060d0" text-anchor="end" xml:space="preserve">PBS</text>
<text class="m" x="547.93" y="510.39" fill="#1060d0" text-anchor="end" xml:space="preserve">-37.7</text>
<text class="m" x="608.42" y="510.39" fill="#1060d0" text-anchor="end" xml:space="preserve">-128.5</text>
<text class="m" x="621.87" y="510.39" fill="#1060d0" text-anchor="start" xml:space="preserve">Tropo</text>
<text class="m" x="702.53" y="510.39" fill="#1060d0" text-anchor="end" xml:space="preserve">141.1</text>
<text class="m" x="742.86" y="510.39" fill="#38990f" text-anchor="end" xml:space="preserve">102º</text>
<text class="m" x="789.92" y="510.39" fill="#38990f" text-anchor="end" xml:space="preserve">(90º)</text>
<rect x="305.83" y="513.02" width="6.72" height="11.18" fill="#fa7e7e"/>
<text class="m" x="305.93" y="521.57" fill="#fff" text-anchor="start" xml:space="preserve">a</text>
<rect x="312.56" y="513.02" width="6.72" height="11.18" fill="#c00000"/>
<text class="m" x="312.66" y="521.57" fill="#fff" text-anchor="start" xml:space="preserve">C</text>
<text class="m" x="326.10" y="521.57" fill="#1060d0" text-anchor="start" xml:space="preserve">KTBV-LD</text>
<text class="m" x="413.49" y="521.57" fill="#1060d0" text-anchor="end" xml:space="preserve">12</text>
<text class="m" x="460.54" y="521.57" fill="#1060d0" text-anchor="end" xml:space="preserve">(12.1)</text>
<text class="m" x="547.93" y="521.57" fill="#1060d0" text-anchor="end" xml:space="preserve">-39.3</text>
<text class="m" x="608.42" y="521.57" fill="#1060d0" text-anchor="end" xml:space="preserve">-130.1</text>
<text class="m" x="621.87" y="521.57" fill="#1060d0" text-anchor="start" xml:space="preserve">2Edge</text>
<text class="m" x="702.53" y="521.57" fill="#1060d0" text-anchor="end" xml:space="preserve">63.5</text>
<text class="m" x="742.86" y="521.57" fill="#46990f" text-anchor="end" xml:space="preserve">96º</text>
<text class="m" x="789.92" y="521.57" fill="#46990f" text-anchor="end" xml:space="preserve">(84º)</text>
<rect x="305.83" y="524.19" width="6.72" height="11.18" fill="#fa7e7e"/>
<text class="m" x="305.93" y="532.74" fill="#fff" text-anchor="start" xml:space="preserve">a</text>
<rect x="312.56" y="524.19" width="6.72" height="11.18" fill="#c00000"/>
<text class="m" x="312.66" y="532.74" fill="#fff" text-anchor="start" xml:space="preserve">C</text>
<text class="m" x="326.10" y="532.74" fill="#1060d0" text-anchor="start" xml:space="preserve">KIIO-LD</text>
<text class="m" x="413.49" y="532.74" fill="#1060d0" text-anchor="end" xml:space="preserve">10</text>
<text class="m" x="460.54" y="532.74" fill="#1060d0" text-anchor="end" xml:space="preserve">(10.1)</text>
<text class="m" x="547.93" y="532.74" fill="#1060d0" text-anchor="end" xml:space="preserve">-40.0</text>
<text class="m" x="608.42" y="532.74" fill="#1060d0" text-anchor="end" xml:space="preserve">-130.8</text>
<text class="m" x="621.87" y="532.74" fill="#1060d0" text-anchor="start" xml:space="preserve">1Edge</text>
<text class="m" x="702.53" y="532.74" fill="#1060d0" text-anchor="end" xml:space="preserve">93.2</text>
<text class="m" x="742.86" y="532.74" fill="#41990f" text-anchor="end" xml:space="preserve">98º</text>
<text class="m" x="789.92" y="532.74" fill="#41990f" text-anchor="end" xml:space="preserve">(86º)</text>
<rect x="346.3" y="539.3" width="6.8" height="11.6" fill="#c00000"/>
<text class="m" x="346.4" y="549" fill="#fff">C</text>
<text class="s" x="359.5" y="550.2" font-size="11.2" fill="#000">= Co-channel warning</text>
<rect x="557.3" y="539.3" width="6.8" height="11.6" fill="#fa7e7e"/>
<text class="m" x="557.4" y="549" fill="#fff">a</text>
<text class="s" x="571" y="550.2" font-size="11.2" fill="#000">= Adjacent channel warning</text>
<rect x="38.8" y="637" width="10" height="122" fill="#e4e4e4"/>
<rect x="70" y="637" width="30.8" height="122" fill="#e4e4e4"/>
<path d="M8 645.50 H173 M216 645.50 H792" stroke="#606060" stroke-width="1" stroke-dasharray="1 1" fill="none" shape-rendering="crispEdges"/>
<text class="s" x="203.4" y="647.90" font-size="11.2" text-anchor="end" fill="#000">-10</text>
<path d="M8 658.50 H173 M216 658.50 H792" stroke="#606060" stroke-width="1" stroke-dasharray="1 1" fill="none" shape-rendering="crispEdges"/>
<text class="s" x="203.4" y="660.65" font-size="11.2" text-anchor="end" fill="#000">-20</text>
<path d="M8 671.50 H173 M216 671.50 H792" stroke="#606060" stroke-width="1" stroke-dasharray="1 1" fill="none" shape-rendering="crispEdges"/>
<text class="s" x="203.4" y="673.40" font-size="11.2" text-anchor="end" fill="#000">-30</text>
<path d="M8 684.50 H173 M216 684.50 H792" stroke="#606060" stroke-width="1" stroke-dasharray="1 1" fill="none" shape-rendering="crispEdges"/>
<text class="s" x="203.4" y="686.15" font-size="11.2" text-anchor="end" fill="#000">-40</text>
<path d="M8 696.50 H173 M216 696.50 H792" stroke="#606060" stroke-width="1" stroke-dasharray="1 1" fill="none" shape-rendering="crispEdges"/>
<text class="s" x="203.4" y="698.90" font-size="11.2" text-anchor="end" fill="#000">-50</text>
<path d="M8 709.50 H173 M216 709.50 H792" stroke="#606060" stroke-width="1" stroke-dasharray="1 1" fill="none" shape-rendering="crispEdges"/>
<text class="s" x="203.4" y="711.65" font-size="11.2" text-anchor="end" fill="#000">-60</text>
<path d="M8 722.50 H173 M216 722.50 H792" stroke="#606060" stroke-width="1" stroke-dasharray="1 1" fill="none" shape-rendering="crispEdges"/>
<text class="s" x="203.4" y="724.40" font-size="11.2" text-anchor="end" fill="#000">-70</text>
<path d="M8 735.50 H173 M216 735.50 H792" stroke="#606060" stroke-width="1" stroke-dasharray="1 1" fill="none" shape-rendering="crispEdges"/>
<text class="s" x="203.4" y="737.15" font-size="11.2" text-anchor="end" fill="#000">-80</text>
<path d="M8 747.50 H173 M216 747.50 H792" stroke="#606060" stroke-width="1" stroke-dasharray="1 1" fill="none" shape-rendering="crispEdges"/>
<text class="s" x="203.4" y="749.90" font-size="11.2" text-anchor="end" fill="#000">-90</text>
<text class="s" x="181.2" y="635.7" font-size="11.2" fill="#000">dBm</text>
<text class="s" x="176.5" y="763.4" font-size="8.6" fill="#000">Channel</text>
<g stroke="#000" stroke-width="1.7" fill="none">
<path d="M7.6 632 V761"/>
<path d="M173.4 632 V761"/>
<path d="M6.8 632.85 H14 M65.3 632.85 H111.8 M162.5 632.85 H174.2"/>
<path d="M215 632 V761"/>
<path d="M792.6 632 V761"/>
<path d="M214.2 632.85 H480.5 M524.6 632.85 H793.4"/>
</g>
<path d="M6.8 760.2 H10.4 M16.4 760.2 H31.2 M37.2 760.2 H50.9 M56.9 760.2 H61.3 M67.3 760.2 H103.2 M109.2 760.2 H123.9 M129.9 760.2 H142.7 M152.7 760.2 H163.4 M173.4 760.2 H174.2" stroke="#000" stroke-width="1.7" fill="none"/>
<text class="s" x="13.4" y="762.6" font-size="6.7" text-anchor="middle" fill="#000">2</text>
<text class="s" x="34.2" y="762.6" font-size="6.7" text-anchor="middle" fill="#000">4</text>
<text class="s" x="53.9" y="762.6" font-size="6.7" text-anchor="middle" fill="#000">5</text>
<text class="s" x="64.3" y="762.6" font-size="6.7" text-anchor="middle" fill="#000">6</text>
<text class="s" x="106.2" y="762.6" font-size="6.7" text-anchor="middle" fill="#000">7</text>
<text class="s" x="126.9" y="762.6" font-size="6.7" text-anchor="middle" fill="#000">9</text>
<text class="s" x="147.7" y="762.6" font-size="6.7" text-anchor="middle" fill="#000">11</text>
<text class="s" x="168.4" y="762.6" font-size="6.7" text-anchor="middle" fill="#000">13</text>
<path d="M223.5 760.2 H234.9 M244.9 760.2 H265.9 M275.9 760.2 H296.9 M306.9 760.2 H327.8 M337.8 760.2 H358.8 M368.8 760.2 H389.7 M399.7 760.2 H420.7 M430.7 760.2 H451.7 M461.7 760.2 H482.6 M492.6 760.2 H513.6 M523.6 760.2 H544.5 M554.5 760.2 H575.5 M585.5 760.2 H606.5 M616.5 760.2 H637.4 M647.4 760.2 H668.4 M678.4 760.2 H699.3 M709.3 760.2 H730.3 M740.3 760.2 H761.3 M771.3 760.2 H781.9 M791.9 760.2 H793.4" stroke="#000" stroke-width="1.7" fill="none"/>
<text class="s" x="218.5" y="762.6" font-size="6.7" text-anchor="middle" fill="#000">14</text>
<text class="s" x="239.9" y="762.6" font-size="6.7" text-anchor="middle" fill="#000">16</text>
<text class="s" x="270.9" y="762.6" font-size="6.7" text-anchor="middle" fill="#000">19</text>
<text class="s" x="301.9" y="762.6" font-size="6.7" text-anchor="middle" fill="#000">22</text>
<text class="s" x="332.8" y="762.6" font-size="6.7" text-anchor="middle" fill="#000">25</text>
<text class="s" x="363.8" y="762.6" font-size="6.7" text-anchor="middle" fill="#000">28</text>
<text class="s" x="394.7" y="762.6" font-size="6.7" text-anchor="middle" fill="#000">31</text>
<text class="s" x="425.7" y="762.6" font-size="6.7" text-anchor="middle" fill="#000">34</text>
<text class="s" x="456.7" y="762.6" font-size="6.7" text-anchor="middle" fill="#000">37</text>
<text class="s" x="487.6" y="762.6" font-size="6.7" text-anchor="middle" fill="#000">40</text>
<text class="s" x="518.6" y="762.6" font-size="6.7" text-anchor="middle" fill="#000">43</text>
<text class="s" x="549.5" y="762.6" font-size="6.7" text-anchor="middle" fill="#000">46</text>
<text class="s" x="580.5" y="762.6" font-size="6.7" text-anchor="middle" fill="#000">49</text>
<text class="s" x="611.5" y="762.6" font-size="6.7" text-anchor="middle" fill="#000">52</text>
<text class="s" x="642.4" y="762.6" font-size="6.7" text-anchor="middle" fill="#000">55</text>
<text class="s" x="673.4" y="762.6" font-size="6.7" text-anchor="middle" fill="#000">58</text>
<text class="s" x="704.3" y="762.6" font-size="6.7" text-anchor="middle" fill="#000">61</text>
<text class="s" x="735.3" y="762.6" font-size="6.7" text-anchor="middle" fill="#000">64</text>
<text class="s" x="766.3" y="762.6" font-size="6.7" text-anchor="middle" fill="#000">67</text>
<text class="s" x="786.9" y="762.6" font-size="6.7" text-anchor="middle" fill="#000">69</text>
<text class="b" x="17.3" y="636.4" font-size="11.2" fill="#000">VHF Lo</text>
<text class="b" x="118.3" y="636.4" font-size="11.2" fill="#000">VHF Hi</text>
<text class="b" x="504.6" y="636.4" font-size="11.2" text-anchor="middle" fill="#000">UHF</text>
<g>
<rect x="7.7" y="731.4" width="12" height="6.4" rx="3.2" fill="#f4f000"/>
<rect x="9.2" y="732.9" width="9" height="3.4" rx="1.2" fill="#0a3c96"/>
<rect x="10.0" y="733.8" width="7.4" height="1.8" rx="0.8" fill="#1058c8"/>
<text class="s" font-size="9.33" fill="none" stroke="#fff" stroke-width="1.5" stroke-linejoin="round" opacity="0.8" transform="translate(17.1 728.4) rotate(-90)">KHIZ-LD</text>
<text class="s" font-size="9.33" fill="#1060d0" transform="translate(17.1 728.4) rotate(-90)">KHIZ-LD</text>
</g>
<g opacity="0.45">
<rect x="58.6" y="751.8" width="12" height="6.4" rx="3.2" fill="#f4f000"/>
<rect x="60.1" y="753.3" width="9" height="3.4" rx="1.2" fill="#0a3c96"/>
<rect x="60.9" y="754.1" width="7.4" height="1.8" rx="0.8" fill="#1058c8"/>
<text class="s" font-size="9.33" fill="none" stroke="#fff" stroke-width="1.5" stroke-linejoin="round" opacity="0.8" transform="translate(68.0 748.8) rotate(-90)">KZNO-LP</text>
<text class="s" font-size="9.33" fill="#1060d0" transform="translate(68.0 748.8) rotate(-90)">KZNO-LP</text>
</g>
<g opacity="0.45">
<rect x="110.9" y="755.8" width="12" height="6.4" rx="3.2" fill="#f4f000"/>
<rect x="112.4" y="757.3" width="9" height="3.4" rx="1.2" fill="#0a3c96"/>
<rect x="113.2" y="758.1" width="7.4" height="1.8" rx="0.8" fill="#1058c8"/>
<text class="s" font-size="9.33" fill="none" stroke="#fff" stroke-width="1.5" stroke-linejoin="round" opacity="0.8" transform="translate(120.3 752.7) rotate(-90)">KFLA-LD</text>
<text class="s" font-size="9.33" fill="#1060d0" transform="translate(120.3 752.7) rotate(-90)">KFLA-LD</text>
</g>
<g>
<rect x="100.5" y="740.2" width="12" height="6.4" rx="3.2" fill="#f4f000"/>
<rect x="102.0" y="741.7" width="9" height="3.4" rx="1.2" fill="#0a3c96"/>
<rect x="102.8" y="742.5" width="7.4" height="1.8" rx="0.8" fill="#1058c8"/>
<text class="s" font-size="9.33" fill="none" stroke="#fff" stroke-width="1.5" stroke-linejoin="round" opacity="0.8" transform="translate(109.9 737.1) rotate(-90)">KABC-TV</text>
<text class="s" font-size="9.33" fill="#1060d0" transform="translate(109.9 737.1) rotate(-90)">KABC-TV</text>
</g>
<g>
<rect x="110.9" y="665.8" width="12" height="6.4" rx="3.2" fill="#f4f000"/>
<rect x="112.4" y="667.3" width="9" height="3.4" rx="1.2" fill="#0a3c96"/>
<rect x="113.2" y="668.1" width="7.4" height="1.8" rx="0.8" fill="#1058c8"/>
<text class="s" font-size="9.33" fill="none" stroke="#fff" stroke-width="1.5" stroke-linejoin="round" opacity="0.8" transform="translate(120.3 662.7) rotate(-90)">KZDF-LP</text>
<text class="s" font-size="9.33" fill="#1060d0" transform="translate(120.3 662.7) rotate(-90)">KZDF-LP</text>
</g>
<g>
<rect x="121.2" y="746.6" width="12" height="6.4" rx="3.2" fill="#f4f000"/>
<rect x="122.7" y="748.1" width="9" height="3.4" rx="1.2" fill="#0a3c96"/>
<rect x="123.5" y="748.9" width="7.4" height="1.8" rx="0.8" fill="#1058c8"/>
<text class="s" font-size="9.33" fill="none" stroke="#fff" stroke-width="1.5" stroke-linejoin="round" opacity="0.8" transform="translate(130.6 743.5) rotate(-90)">KCAL-DT</text>
<text class="s" font-size="9.33" fill="#1060d0" transform="translate(130.6 743.5) rotate(-90)">KCAL-DT</text>
</g>
<g>
<rect x="131.6" y="677.0" width="12" height="6.4" rx="3.2" fill="#f4f000"/>
<rect x="133.1" y="678.5" width="9" height="3.4" rx="1.2" fill="#0a3c96"/>
<rect x="133.9" y="679.3" width="7.4" height="1.8" rx="0.8" fill="#1058c8"/>
<text class="s" font-size="9.33" fill="none" stroke="#fff" stroke-width="1.5" stroke-linejoin="round" opacity="0.8" transform="translate(141.0 673.9) rotate(-90)">K10PV-D</text>
<text class="s" font-size="9.33" fill="#1060d0" transform="translate(141.0 673.9) rotate(-90)">K10PV-D</text>
</g>
<g>
<rect x="142.0" y="739.4" width="12" height="6.4" rx="3.2" fill="#f4f000"/>
<rect x="143.5" y="740.9" width="9" height="3.4" rx="1.2" fill="#0a3c96"/>
<rect x="144.3" y="741.7" width="7.4" height="1.8" rx="0.8" fill="#1058c8"/>
<text class="s" font-size="9.33" fill="none" stroke="#fff" stroke-width="1.5" stroke-linejoin="round" opacity="0.8" transform="translate(151.4 736.3) rotate(-90)">KTTV</text>
<text class="s" font-size="9.33" fill="#1060d0" transform="translate(151.4 736.3) rotate(-90)">KTTV</text>
</g>
<g>
<rect x="162.7" y="740.4" width="12" height="6.4" rx="3.2" fill="#f4f000"/>
<rect x="164.2" y="741.9" width="9" height="3.4" rx="1.2" fill="#0a3c96"/>
<rect x="165.0" y="742.7" width="7.4" height="1.8" rx="0.8" fill="#1058c8"/>
<text class="s" font-size="9.33" fill="none" stroke="#fff" stroke-width="1.5" stroke-linejoin="round" opacity="0.8" transform="translate(172.1 737.3) rotate(-90)">KCOP-TV</text>
<text class="s" font-size="9.33" fill="#1060d0" transform="translate(172.1 737.3) rotate(-90)">KCOP-TV</text>
</g>
<g opacity="0.45">
<rect x="307.8" y="744.4" width="9" height="3.4" rx="1.2" fill="#0a3c96"/>
<rect x="308.6" y="745.2" width="7.4" height="1.8" rx="0.8" fill="#1058c8"/>
<text class="s" font-size="9.33" fill="none" stroke="#fff" stroke-width="1.5" stroke-linejoin="round" opacity="0.8" transform="translate(315.7 739.8) rotate(-90)">KIMG-LD</text>
<text class="s" font-size="9.33" fill="#1060d0" transform="translate(315.7 739.8) rotate(-90)">KIMG-LD</text>
</g>
<g opacity="0.45">
<rect x="359.5" y="730.7" width="9" height="3.4" rx="1.2" fill="#0a3c96"/>
<rect x="360.3" y="731.5" width="7.4" height="1.8" rx="0.8" fill="#1058c8"/>
<text class="s" font-size="9.33" fill="none" stroke="#fff" stroke-width="1.5" stroke-linejoin="round" opacity="0.8" transform="translate(367.4 726.1) rotate(-90)">KVMM-CD</text>
<text class="s" font-size="9.33" fill="#1060d0" transform="translate(367.4 726.1) rotate(-90)">KVMM-CD</text>
</g>
<g opacity="0.45">
<rect x="359.5" y="697.8" width="9" height="3.4" rx="1.2" fill="#0a3c96"/>
<rect x="360.3" y="698.6" width="7.4" height="1.8" rx="0.8" fill="#1058c8"/>
<text class="s" font-size="9.33" fill="none" stroke="#fff" stroke-width="1.5" stroke-linejoin="round" opacity="0.8" transform="translate(367.4 693.2) rotate(-90)">K28GY-D</text>
<text class="s" font-size="9.33" fill="#1060d0" transform="translate(367.4 693.2) rotate(-90)">K28GY-D</text>
</g>
<g opacity="0.45">
<rect x="431.8" y="748.0" width="9" height="3.4" rx="1.2" fill="#0a3c96"/>
<rect x="432.6" y="748.8" width="7.4" height="1.8" rx="0.8" fill="#1058c8"/>
<text class="s" font-size="9.33" fill="none" stroke="#fff" stroke-width="1.5" stroke-linejoin="round" opacity="0.8" transform="translate(439.7 743.4) rotate(-90)">KTLA</text>
<text class="s" font-size="9.33" fill="#1060d0" transform="translate(439.7 743.4) rotate(-90)">KTLA</text>
</g>
<g>
<rect x="287.1" y="664.1" width="9" height="3.4" rx="1.2" fill="#0a3c96"/>
<rect x="287.9" y="664.9" width="7.4" height="1.8" rx="0.8" fill="#1058c8"/>
<text class="s" font-size="9.33" fill="none" stroke="#fff" stroke-width="1.5" stroke-linejoin="round" opacity="0.8" transform="translate(295.0 659.5) rotate(-90)">KPMR</text>
<text class="s" font-size="9.33" fill="#1060d0" transform="translate(295.0 659.5) rotate(-90)">KPMR</text>
</g>
<g>
<rect x="349.1" y="673.7" width="9" height="3.4" rx="1.2" fill="#0a3c96"/>
<rect x="349.9" y="674.5" width="7.4" height="1.8" rx="0.8" fill="#1058c8"/>
<text class="s" font-size="9.33" fill="none" stroke="#fff" stroke-width="1.5" stroke-linejoin="round" opacity="0.8" transform="translate(357.0 669.1) rotate(-90)">KEYT-DT</text>
<text class="s" font-size="9.33" fill="#1060d0" transform="translate(357.0 669.1) rotate(-90)">KEYT-DT</text>
</g>
<g>
<rect x="245.8" y="675.7" width="9" height="3.4" rx="1.2" fill="#0a3c96"/>
<rect x="246.6" y="676.5" width="7.4" height="1.8" rx="0.8" fill="#1058c8"/>
<text class="s" font-size="9.33" fill="none" stroke="#fff" stroke-width="1.5" stroke-linejoin="round" opacity="0.8" transform="translate(253.7 671.1) rotate(-90)">KSBB-CD</text>
<text class="s" font-size="9.33" fill="#1060d0" transform="translate(253.7 671.1) rotate(-90)">KSBB-CD</text>
</g>
<g>
<rect x="338.8" y="692.7" width="9" height="3.4" rx="1.2" fill="#0a3c96"/>
<rect x="339.6" y="693.5" width="7.4" height="1.8" rx="0.8" fill="#1058c8"/>
<text class="s" font-size="9.33" fill="none" stroke="#fff" stroke-width="1.5" stroke-linejoin="round" opacity="0.8" transform="translate(346.7 688.1) rotate(-90)">K26FT-D</text>
<text class="s" font-size="9.33" fill="#1060d0" transform="translate(346.7 688.1) rotate(-90)">K26FT-D</text>
</g>
<g>
<rect x="586.8" y="695.7" width="9" height="3.4" rx="1.2" fill="#0a3c96"/>
<rect x="587.6" y="696.5" width="7.4" height="1.8" rx="0.8" fill="#1058c8"/>
<text class="s" font-size="9.33" fill="none" stroke="#fff" stroke-width="1.5" stroke-linejoin="round" opacity="0.8" transform="translate(594.7 691.1) rotate(-90)">KBAB-LD</text>
<text class="s" font-size="9.33" fill="#1060d0" transform="translate(594.7 691.1) rotate(-90)">KBAB-LD</text>
</g>
<g>
<rect x="400.8" y="729.4" width="9" height="3.4" rx="1.2" fill="#0a3c96"/>
<rect x="401.6" y="730.2" width="7.4" height="1.8" rx="0.8" fill="#1058c8"/>
<text class="s" font-size="9.33" fill="none" stroke="#fff" stroke-width="1.5" stroke-linejoin="round" opacity="0.8" transform="translate(408.7 724.8) rotate(-90)">KSBT-LD</text>
<text class="s" font-size="9.33" fill="#1060d0" transform="translate(408.7 724.8) rotate(-90)">KSBT-LD</text>
</g>
<g>
<rect x="318.1" y="744.2" width="9" height="3.4" rx="1.2" fill="#0a3c96"/>
<rect x="318.9" y="745.0" width="7.4" height="1.8" rx="0.8" fill="#1058c8"/>
<text class="s" font-size="9.33" fill="none" stroke="#fff" stroke-width="1.5" stroke-linejoin="round" opacity="0.8" transform="translate(326.0 739.6) rotate(-90)">KBEH</text>
<text class="s" font-size="9.33" fill="#1060d0" transform="translate(326.0 739.6) rotate(-90)">KBEH</text>
</g>
<g>
<rect x="576.5" y="748.8" width="9" height="3.4" rx="1.2" fill="#0a3c96"/>
<rect x="577.3" y="749.6" width="7.4" height="1.8" rx="0.8" fill="#1058c8"/>
<text class="s" font-size="9.33" fill="none" stroke="#fff" stroke-width="1.5" stroke-linejoin="round" opacity="0.8" transform="translate(584.4 744.2) rotate(-90)">KJLA-DT</text>
<text class="s" font-size="9.33" fill="#1060d0" transform="translate(584.4 744.2) rotate(-90)">KJLA-DT</text>
</g>
<g>
<rect x="442.1" y="751.1" width="9" height="3.4" rx="1.2" fill="#0a3c96"/>
<rect x="442.9" y="751.9" width="7.4" height="1.8" rx="0.8" fill="#1058c8"/>
<text class="s" font-size="9.33" fill="none" stroke="#fff" stroke-width="1.5" stroke-linejoin="round" opacity="0.8" transform="translate(450.0 746.5) rotate(-90)">KNBC-DT</text>
<text class="s" font-size="9.33" fill="#1060d0" transform="translate(450.0 746.5) rotate(-90)">KNBC-DT</text>
</g>
<g>
<rect x="566.1" y="752.2" width="9" height="3.4" rx="1.2" fill="#0a3c96"/>
<rect x="566.9" y="753.0" width="7.4" height="1.8" rx="0.8" fill="#1058c8"/>
<text class="s" font-size="9.33" fill="none" stroke="#fff" stroke-width="1.5" stroke-linejoin="round" opacity="0.8" transform="translate(574.0 747.6) rotate(-90)">KOCE-DT</text>
<text class="s" font-size="9.33" fill="#1060d0" transform="translate(574.0 747.6) rotate(-90)">KOCE-DT</text>
</g>
<g>
<rect x="421.5" y="752.3" width="9" height="3.4" rx="1.2" fill="#0a3c96"/>
<rect x="422.3" y="753.1" width="7.4" height="1.8" rx="0.8" fill="#1058c8"/>
<text class="s" font-size="9.33" fill="none" stroke="#fff" stroke-width="1.5" stroke-linejoin="round" opacity="0.8" transform="translate(429.4 747.7) rotate(-90)">KMEX-DT</text>
<text class="s" font-size="9.33" fill="#1060d0" transform="translate(429.4 747.7) rotate(-90)">KMEX-DT</text>
</g>
<g>
<rect x="369.8" y="752.5" width="9" height="3.4" rx="1.2" fill="#0a3c96"/>
<rect x="370.6" y="753.3" width="7.4" height="1.8" rx="0.8" fill="#1058c8"/>
<text class="s" font-size="9.33" fill="none" stroke="#fff" stroke-width="1.5" stroke-linejoin="round" opacity="0.8" transform="translate(377.7 747.9) rotate(-90)">KFTR-DT</text>
<text class="s" font-size="9.33" fill="#1060d0" transform="translate(377.7 747.9) rotate(-90)">KFTR-DT</text>
</g>
<g>
<rect x="555.8" y="754.2" width="9" height="3.4" rx="1.2" fill="#0a3c96"/>
<rect x="556.6" y="755.0" width="7.4" height="1.8" rx="0.8" fill="#1058c8"/>
<text class="s" font-size="9.33" fill="none" stroke="#fff" stroke-width="1.5" stroke-linejoin="round" opacity="0.8" transform="translate(563.7 749.6) rotate(-90)">KAZA-TV</text>
<text class="s" font-size="9.33" fill="#1060d0" transform="translate(563.7 749.6) rotate(-90)">KAZA-TV</text>
</g>
<g>
<rect x="493.8" y="755.1" width="9" height="3.4" rx="1.2" fill="#0a3c96"/>
<rect x="494.6" y="755.9" width="7.4" height="1.8" rx="0.8" fill="#1058c8"/>
<text class="s" font-size="9.33" fill="none" stroke="#fff" stroke-width="1.5" stroke-linejoin="round" opacity="0.8" transform="translate(501.7 750.5) rotate(-90)">KLCS</text>
<text class="s" font-size="9.33" fill="#1060d0" transform="translate(501.7 750.5) rotate(-90)">KLCS</text>
</g>
<g>
<rect x="473.1" y="755.9" width="9" height="3.4" rx="1.2" fill="#0a3c96"/>
<rect x="473.9" y="756.7" width="7.4" height="1.8" rx="0.8" fill="#1058c8"/>
<text class="s" font-size="9.33" fill="none" stroke="#fff" stroke-width="1.5" stroke-linejoin="round" opacity="0.8" transform="translate(481.0 751.3) rotate(-90)">KVEA</text>
<text class="s" font-size="9.33" fill="#1060d0" transform="translate(481.0 751.3) rotate(-90)">KVEA</text>
</g>
<g>
<rect x="411.1" y="757.0" width="9" height="3.4" rx="1.2" fill="#0a3c96"/>
<rect x="411.9" y="757.8" width="7.4" height="1.8" rx="0.8" fill="#1058c8"/>
<text class="s" font-size="9.33" fill="none" stroke="#fff" stroke-width="1.5" stroke-linejoin="round" opacity="0.8" transform="translate(419.0 752.4) rotate(-90)">KTBN-TV</text>
<text class="s" font-size="9.33" fill="#1060d0" transform="translate(419.0 752.4) rotate(-90)">KTBN-TV</text>
</g>
</svg></body></html>
